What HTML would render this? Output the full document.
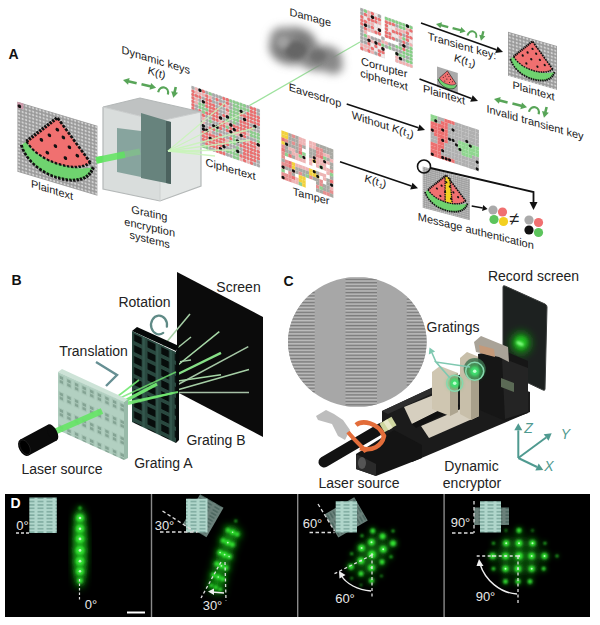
<!DOCTYPE html><html><head><meta charset="utf-8"><style>html,body{margin:0;padding:0;background:#fff;}svg{display:block;font-family:"Liberation Sans", sans-serif;}</style></head><body>
<svg width="600" height="625" viewBox="0 0 600 625">
<defs>
<pattern id="grid" width="3.5" height="3.5" patternUnits="userSpaceOnUse"><rect width="3.5" height="3.5" fill="#9a9a9a"/><circle cx="1.75" cy="1.75" r="1.15" fill="#d2d2d2"/></pattern>
<filter id="b1" x="-50%" y="-50%" width="200%" height="200%"><feGaussianBlur stdDeviation="1"/></filter>
<filter id="b2" x="-50%" y="-50%" width="200%" height="200%"><feGaussianBlur stdDeviation="2"/></filter>
<filter id="b3" x="-50%" y="-50%" width="200%" height="200%"><feGaussianBlur stdDeviation="2.6"/></filter>
<filter id="b4" x="-50%" y="-50%" width="200%" height="200%"><feGaussianBlur stdDeviation="4"/></filter>
<filter id="b6" x="-50%" y="-50%" width="200%" height="200%"><feGaussianBlur stdDeviation="6"/></filter>
<filter id="bh" x="-50%" y="-50%" width="200%" height="200%"><feGaussianBlur stdDeviation="0.6"/></filter>
<pattern id="stripes" width="4" height="3.3" patternUnits="userSpaceOnUse"><rect width="4" height="3.3" fill="#a2a2a2"/><rect y="0" width="4" height="1.1" fill="#bebebe"/><rect y="1.6" width="4" height="1.1" fill="#7a7a7a"/></pattern>
<pattern id="slotsA" width="7.6" height="16.5" patternUnits="userSpaceOnUse"><rect width="7.6" height="16.5" fill="#b2d0c1"/><rect x="1.6" y="3" width="3.6" height="3" fill="#83a393"/><rect x="1.6" y="7" width="3.6" height="3" fill="#83a393"/><rect x="1" y="2.4" width="4.8" height="8.2" fill="none" stroke="#a3c1b2" stroke-width="0.6"/></pattern>
<pattern id="slotsB" width="13.6" height="11" patternUnits="userSpaceOnUse"><rect width="13.6" height="11" fill="#29483f"/><rect x="2" y="2" width="7.8" height="7" fill="#070d0c"/><rect x="10.5" y="0" width="2.2" height="11" fill="#33574d"/></pattern>
<pattern id="slotsD" width="9" height="3.4" patternUnits="userSpaceOnUse"><rect width="9" height="3.4" fill="#b0d6cb"/><rect x="1.5" y="1.1" width="6" height="1.3" fill="#76a498"/></pattern>
</defs>
<text x="13.5" y="58.5" font-size="14" text-anchor="middle" fill="#111" font-weight="bold" font-style="normal">A</text>
<g transform="matrix(1,0.30,0,1,17.4,101.7)">
<rect x="0" y="0" width="80" height="70" fill="url(#grid)"/>
<path d="M4,42 C8,56 24,64 40,64 C56,64 72,58 76,42 C68,48 56,50 42,50 C26,50 14,46 9,37 Z" fill="#6fd36f"/><path d="M40,4 L9,37 C16,46 28,50 42,50 C56,50 66,46 73,39 Z" fill="#f07070"/><path d="M9,37 L40,4 L73,39" fill="none" stroke="#111" stroke-width="3" stroke-dasharray="2.6 1.2"/><path d="M4,42 C8,56 24,64 40,64 C56,64 72,58 76,42" fill="none" stroke="#111" stroke-width="3" stroke-dasharray="2.6 1.2"/><path d="M9,37 C16,46 28,50 42,50 C56,50 66,46 73,39" fill="none" stroke="#111" stroke-width="2.4" stroke-dasharray="2.6 1.4"/><circle cx="40" cy="16" r="1.8" fill="#111"/><circle cx="32" cy="24" r="1.8" fill="#111"/><circle cx="46" cy="22" r="1.8" fill="#111"/><circle cx="24" cy="31" r="1.8" fill="#111"/><circle cx="38" cy="33" r="1.8" fill="#111"/><circle cx="52" cy="30" r="1.8" fill="#111"/><circle cx="30" cy="42" r="1.8" fill="#111"/><circle cx="48" cy="42" r="1.8" fill="#111"/><circle cx="60" cy="36" r="1.8" fill="#111"/>
<rect x="0" y="0" width="6" height="6" fill="#c9a"/><circle cx="2" cy="4" r="1.8" fill="#111"/>
</g>
<text x="52" y="193.7" font-size="11" text-anchor="middle" fill="#222" font-style="normal" transform="matrix(1,0.307,0,1,0,-15.96)">Plaintext</text>
<line x1="96" y1="160.5" x2="125" y2="154.5" stroke="#5fe65f" stroke-width="6.5" opacity="0.9"/>
<line x1="172" y1="150" x2="360" y2="42" stroke="#9ee29e" stroke-width="1.3"/>
<g transform="matrix(1,0.347,0,1,191.4,85.6)">
<rect x="0.00" y="0.00" width="3.48" height="3.48" fill="#d6d6d6"/><circle cx="1.72" cy="1.72" r="1.72" fill="#aaaaaa"/><rect x="3.43" y="0.00" width="3.48" height="3.48" fill="#d6d6d6"/><circle cx="5.15" cy="1.72" r="1.72" fill="#f0b0b0"/><rect x="6.86" y="0.00" width="3.48" height="3.48" fill="#d6d6d6"/><circle cx="8.58" cy="1.72" r="1.72" fill="#aaaaaa"/><rect x="10.29" y="0.00" width="3.48" height="3.48" fill="#d6d6d6"/><circle cx="12.01" cy="1.72" r="1.72" fill="#ea7070"/><rect x="13.72" y="0.00" width="3.48" height="3.48" fill="#d6d6d6"/><circle cx="15.44" cy="1.72" r="1.72" fill="#aaaaaa"/><rect x="17.15" y="0.00" width="3.48" height="3.48" fill="#d6d6d6"/><circle cx="18.87" cy="1.72" r="1.72" fill="#8ccc8c"/><rect x="20.58" y="0.00" width="3.48" height="3.48" fill="#d6d6d6"/><circle cx="22.30" cy="1.72" r="1.72" fill="#aaaaaa"/><rect x="24.01" y="0.00" width="3.48" height="3.48" fill="#d6d6d6"/><circle cx="25.73" cy="1.72" r="1.72" fill="#aaaaaa"/><rect x="27.44" y="0.00" width="3.48" height="3.48" fill="#d6d6d6"/><circle cx="29.16" cy="1.72" r="1.72" fill="#aaaaaa"/><rect x="30.87" y="0.00" width="3.48" height="3.48" fill="#d6d6d6"/><circle cx="32.59" cy="1.72" r="1.72" fill="#ea7070"/><rect x="34.30" y="0.00" width="3.48" height="3.48" fill="#d6d6d6"/><circle cx="36.02" cy="1.72" r="1.72" fill="#ea7070"/><rect x="37.73" y="0.00" width="3.48" height="3.48" fill="#d6d6d6"/><circle cx="39.45" cy="1.72" r="1.72" fill="#8ccc8c"/><rect x="41.16" y="0.00" width="3.48" height="3.48" fill="#d6d6d6"/><circle cx="42.88" cy="1.72" r="1.72" fill="#8ccc8c"/><rect x="44.59" y="0.00" width="3.48" height="3.48" fill="#d6d6d6"/><circle cx="46.31" cy="1.72" r="1.72" fill="#8ccc8c"/><rect x="48.02" y="0.00" width="3.48" height="3.48" fill="#d6d6d6"/><circle cx="49.74" cy="1.72" r="1.72" fill="#8ccc8c"/><rect x="51.45" y="0.00" width="3.48" height="3.48" fill="#d6d6d6"/><circle cx="53.17" cy="1.72" r="1.72" fill="#8ccc8c"/><rect x="54.88" y="0.00" width="3.48" height="3.48" fill="#d6d6d6"/><circle cx="56.60" cy="1.72" r="1.72" fill="#aaaaaa"/><rect x="58.31" y="0.00" width="3.48" height="3.48" fill="#d6d6d6"/><circle cx="60.03" cy="1.72" r="1.72" fill="#ea7070"/><rect x="61.74" y="0.00" width="3.48" height="3.48" fill="#d6d6d6"/><circle cx="63.46" cy="1.72" r="1.72" fill="#ea7070"/><rect x="65.17" y="0.00" width="3.48" height="3.48" fill="#d6d6d6"/><circle cx="66.89" cy="1.72" r="1.72" fill="#aaaaaa"/><rect x="0.00" y="3.43" width="3.48" height="3.48" fill="#d6d6d6"/><circle cx="1.72" cy="5.15" r="1.72" fill="#ea7070"/><rect x="3.43" y="3.43" width="3.48" height="3.48" fill="#d6d6d6"/><circle cx="5.15" cy="5.15" r="1.72" fill="#f0b0b0"/><rect x="6.86" y="3.43" width="3.48" height="3.48" fill="#d6d6d6"/><circle cx="8.58" cy="5.15" r="1.72" fill="#f0b0b0"/><rect x="10.29" y="3.43" width="3.48" height="3.48" fill="#d6d6d6"/><circle cx="12.01" cy="5.15" r="1.72" fill="#f0b0b0"/><rect x="13.72" y="3.43" width="3.48" height="3.48" fill="#d6d6d6"/><circle cx="15.44" cy="5.15" r="1.72" fill="#ea7070"/><rect x="17.15" y="3.43" width="3.48" height="3.48" fill="#d6d6d6"/><circle cx="18.87" cy="5.15" r="1.72" fill="#f0b0b0"/><rect x="20.58" y="3.43" width="3.48" height="3.48" fill="#d6d6d6"/><circle cx="22.30" cy="5.15" r="1.72" fill="#aaaaaa"/><rect x="24.01" y="3.43" width="3.48" height="3.48" fill="#d6d6d6"/><circle cx="25.73" cy="5.15" r="1.72" fill="#ea7070"/><rect x="27.44" y="3.43" width="3.48" height="3.48" fill="#d6d6d6"/><circle cx="29.16" cy="5.15" r="1.72" fill="#aaaaaa"/><rect x="30.87" y="3.43" width="3.48" height="3.48" fill="#d6d6d6"/><circle cx="32.59" cy="5.15" r="1.72" fill="#aaaaaa"/><rect x="34.30" y="3.43" width="3.48" height="3.48" fill="#d6d6d6"/><circle cx="36.02" cy="5.15" r="1.72" fill="#ea7070"/><rect x="37.73" y="3.43" width="3.48" height="3.48" fill="#d6d6d6"/><circle cx="39.45" cy="5.15" r="1.72" fill="#aaaaaa"/><rect x="41.16" y="3.43" width="3.48" height="3.48" fill="#d6d6d6"/><circle cx="42.88" cy="5.15" r="1.72" fill="#8ccc8c"/><rect x="44.59" y="3.43" width="3.48" height="3.48" fill="#d6d6d6"/><circle cx="46.31" cy="5.15" r="1.72" fill="#8ccc8c"/><rect x="48.02" y="3.43" width="3.48" height="3.48" fill="#d6d6d6"/><circle cx="49.74" cy="5.15" r="1.72" fill="#8ccc8c"/><rect x="51.45" y="3.43" width="3.48" height="3.48" fill="#d6d6d6"/><circle cx="53.17" cy="5.15" r="1.72" fill="#8ccc8c"/><rect x="54.88" y="3.43" width="3.48" height="3.48" fill="#d6d6d6"/><circle cx="56.60" cy="5.15" r="1.72" fill="#8ccc8c"/><rect x="58.31" y="3.43" width="3.48" height="3.48" fill="#d6d6d6"/><circle cx="60.03" cy="5.15" r="1.72" fill="#ea7070"/><rect x="61.74" y="3.43" width="3.48" height="3.48" fill="#d6d6d6"/><circle cx="63.46" cy="5.15" r="1.72" fill="#ea7070"/><rect x="65.17" y="3.43" width="3.48" height="3.48" fill="#d6d6d6"/><circle cx="66.89" cy="5.15" r="1.72" fill="#aaaaaa"/><rect x="0.00" y="6.86" width="3.48" height="3.48" fill="#d6d6d6"/><circle cx="1.72" cy="8.58" r="1.72" fill="#ea7070"/><rect x="3.43" y="6.86" width="3.48" height="3.48" fill="#d6d6d6"/><circle cx="5.15" cy="8.58" r="1.72" fill="#ea7070"/><rect x="6.86" y="6.86" width="3.48" height="3.48" fill="#d6d6d6"/><circle cx="8.58" cy="8.58" r="1.72" fill="#ea7070"/><rect x="10.29" y="6.86" width="3.48" height="3.48" fill="#d6d6d6"/><circle cx="12.01" cy="8.58" r="1.72" fill="#aaaaaa"/><rect x="13.72" y="6.86" width="3.48" height="3.48" fill="#d6d6d6"/><circle cx="15.44" cy="8.58" r="1.72" fill="#ea7070"/><rect x="17.15" y="6.86" width="3.48" height="3.48" fill="#d6d6d6"/><circle cx="18.87" cy="8.58" r="1.72" fill="#ea7070"/><rect x="20.58" y="6.86" width="3.48" height="3.48" fill="#d6d6d6"/><circle cx="22.30" cy="8.58" r="1.72" fill="#aaaaaa"/><rect x="24.01" y="6.86" width="3.48" height="3.48" fill="#d6d6d6"/><circle cx="25.73" cy="8.58" r="1.72" fill="#aaaaaa"/><rect x="27.44" y="6.86" width="3.48" height="3.48" fill="#d6d6d6"/><circle cx="29.16" cy="8.58" r="1.72" fill="#ea7070"/><rect x="30.87" y="6.86" width="3.48" height="3.48" fill="#d6d6d6"/><circle cx="32.59" cy="8.58" r="1.72" fill="#ea7070"/><rect x="34.30" y="6.86" width="3.48" height="3.48" fill="#d6d6d6"/><circle cx="36.02" cy="8.58" r="1.72" fill="#f0b0b0"/><rect x="37.73" y="6.86" width="3.48" height="3.48" fill="#d6d6d6"/><circle cx="39.45" cy="8.58" r="1.72" fill="#aaaaaa"/><rect x="41.16" y="6.86" width="3.48" height="3.48" fill="#d6d6d6"/><circle cx="42.88" cy="8.58" r="1.72" fill="#8ccc8c"/><rect x="44.59" y="6.86" width="3.48" height="3.48" fill="#d6d6d6"/><circle cx="46.31" cy="8.58" r="1.72" fill="#8ccc8c"/><rect x="48.02" y="6.86" width="3.48" height="3.48" fill="#d6d6d6"/><circle cx="49.74" cy="8.58" r="1.72" fill="#8ccc8c"/><rect x="51.45" y="6.86" width="3.48" height="3.48" fill="#d6d6d6"/><circle cx="53.17" cy="8.58" r="1.72" fill="#aaaaaa"/><rect x="54.88" y="6.86" width="3.48" height="3.48" fill="#d6d6d6"/><circle cx="56.60" cy="8.58" r="1.72" fill="#ea7070"/><rect x="58.31" y="6.86" width="3.48" height="3.48" fill="#d6d6d6"/><circle cx="60.03" cy="8.58" r="1.72" fill="#ea7070"/><rect x="61.74" y="6.86" width="3.48" height="3.48" fill="#d6d6d6"/><circle cx="63.46" cy="8.58" r="1.72" fill="#ea7070"/><rect x="65.17" y="6.86" width="3.48" height="3.48" fill="#d6d6d6"/><circle cx="66.89" cy="8.58" r="1.72" fill="#ea7070"/><rect x="0.00" y="10.29" width="3.48" height="3.48" fill="#d6d6d6"/><circle cx="1.72" cy="12.01" r="1.72" fill="#ea7070"/><rect x="3.43" y="10.29" width="3.48" height="3.48" fill="#d6d6d6"/><circle cx="5.15" cy="12.01" r="1.72" fill="#f0b0b0"/><rect x="6.86" y="10.29" width="3.48" height="3.48" fill="#d6d6d6"/><circle cx="8.58" cy="12.01" r="1.72" fill="#aaaaaa"/><rect x="10.29" y="10.29" width="3.48" height="3.48" fill="#d6d6d6"/><circle cx="12.01" cy="12.01" r="1.72" fill="#f0b0b0"/><rect x="13.72" y="10.29" width="3.48" height="3.48" fill="#d6d6d6"/><circle cx="15.44" cy="12.01" r="1.72" fill="#ea7070"/><rect x="17.15" y="10.29" width="3.48" height="3.48" fill="#d6d6d6"/><circle cx="18.87" cy="12.01" r="1.72" fill="#ea7070"/><rect x="20.58" y="10.29" width="3.48" height="3.48" fill="#d6d6d6"/><circle cx="22.30" cy="12.01" r="1.72" fill="#ea7070"/><rect x="24.01" y="10.29" width="3.48" height="3.48" fill="#d6d6d6"/><circle cx="25.73" cy="12.01" r="1.72" fill="#aaaaaa"/><rect x="27.44" y="10.29" width="3.48" height="3.48" fill="#d6d6d6"/><circle cx="29.16" cy="12.01" r="1.72" fill="#aaaaaa"/><rect x="30.87" y="10.29" width="3.48" height="3.48" fill="#d6d6d6"/><circle cx="32.59" cy="12.01" r="1.72" fill="#aaaaaa"/><rect x="34.30" y="10.29" width="3.48" height="3.48" fill="#d6d6d6"/><circle cx="36.02" cy="12.01" r="1.72" fill="#ea7070"/><rect x="37.73" y="10.29" width="3.48" height="3.48" fill="#d6d6d6"/><circle cx="39.45" cy="12.01" r="1.72" fill="#8ccc8c"/><rect x="41.16" y="10.29" width="3.48" height="3.48" fill="#d6d6d6"/><circle cx="42.88" cy="12.01" r="1.72" fill="#8ccc8c"/><rect x="44.59" y="10.29" width="3.48" height="3.48" fill="#d6d6d6"/><circle cx="46.31" cy="12.01" r="1.72" fill="#8ccc8c"/><rect x="48.02" y="10.29" width="3.48" height="3.48" fill="#d6d6d6"/><circle cx="49.74" cy="12.01" r="1.72" fill="#ea7070"/><rect x="51.45" y="10.29" width="3.48" height="3.48" fill="#d6d6d6"/><circle cx="53.17" cy="12.01" r="1.72" fill="#ea7070"/><rect x="54.88" y="10.29" width="3.48" height="3.48" fill="#d6d6d6"/><circle cx="56.60" cy="12.01" r="1.72" fill="#ea7070"/><rect x="58.31" y="10.29" width="3.48" height="3.48" fill="#d6d6d6"/><circle cx="60.03" cy="12.01" r="1.72" fill="#ea7070"/><rect x="61.74" y="10.29" width="3.48" height="3.48" fill="#d6d6d6"/><circle cx="63.46" cy="12.01" r="1.72" fill="#ea7070"/><rect x="65.17" y="10.29" width="3.48" height="3.48" fill="#d6d6d6"/><circle cx="66.89" cy="12.01" r="1.72" fill="#ea7070"/><rect x="0.00" y="13.72" width="3.48" height="3.48" fill="#d6d6d6"/><circle cx="1.72" cy="15.44" r="1.72" fill="#ea7070"/><rect x="3.43" y="13.72" width="3.48" height="3.48" fill="#d6d6d6"/><circle cx="5.15" cy="15.44" r="1.72" fill="#f0b0b0"/><rect x="6.86" y="13.72" width="3.48" height="3.48" fill="#d6d6d6"/><circle cx="8.58" cy="15.44" r="1.72" fill="#8ccc8c"/><rect x="10.29" y="13.72" width="3.48" height="3.48" fill="#d6d6d6"/><circle cx="12.01" cy="15.44" r="1.72" fill="#8ccc8c"/><rect x="13.72" y="13.72" width="3.48" height="3.48" fill="#d6d6d6"/><circle cx="15.44" cy="15.44" r="1.72" fill="#ea7070"/><rect x="17.15" y="13.72" width="3.48" height="3.48" fill="#d6d6d6"/><circle cx="18.87" cy="15.44" r="1.72" fill="#ea7070"/><rect x="20.58" y="13.72" width="3.48" height="3.48" fill="#d6d6d6"/><circle cx="22.30" cy="15.44" r="1.72" fill="#ea7070"/><rect x="24.01" y="13.72" width="3.48" height="3.48" fill="#d6d6d6"/><circle cx="25.73" cy="15.44" r="1.72" fill="#ea7070"/><rect x="27.44" y="13.72" width="3.48" height="3.48" fill="#d6d6d6"/><circle cx="29.16" cy="15.44" r="1.72" fill="#aaaaaa"/><rect x="30.87" y="13.72" width="3.48" height="3.48" fill="#d6d6d6"/><circle cx="32.59" cy="15.44" r="1.72" fill="#aaaaaa"/><rect x="34.30" y="13.72" width="3.48" height="3.48" fill="#d6d6d6"/><circle cx="36.02" cy="15.44" r="1.72" fill="#f0b0b0"/><rect x="37.73" y="13.72" width="3.48" height="3.48" fill="#d6d6d6"/><circle cx="39.45" cy="15.44" r="1.72" fill="#8ccc8c"/><rect x="41.16" y="13.72" width="3.48" height="3.48" fill="#d6d6d6"/><circle cx="42.88" cy="15.44" r="1.72" fill="#8ccc8c"/><rect x="44.59" y="13.72" width="3.48" height="3.48" fill="#d6d6d6"/><circle cx="46.31" cy="15.44" r="1.72" fill="#8ccc8c"/><rect x="48.02" y="13.72" width="3.48" height="3.48" fill="#d6d6d6"/><circle cx="49.74" cy="15.44" r="1.72" fill="#aaaaaa"/><rect x="51.45" y="13.72" width="3.48" height="3.48" fill="#d6d6d6"/><circle cx="53.17" cy="15.44" r="1.72" fill="#ea7070"/><rect x="54.88" y="13.72" width="3.48" height="3.48" fill="#d6d6d6"/><circle cx="56.60" cy="15.44" r="1.72" fill="#ea7070"/><rect x="58.31" y="13.72" width="3.48" height="3.48" fill="#d6d6d6"/><circle cx="60.03" cy="15.44" r="1.72" fill="#ea7070"/><rect x="61.74" y="13.72" width="3.48" height="3.48" fill="#d6d6d6"/><circle cx="63.46" cy="15.44" r="1.72" fill="#ea7070"/><rect x="65.17" y="13.72" width="3.48" height="3.48" fill="#d6d6d6"/><circle cx="66.89" cy="15.44" r="1.72" fill="#ea7070"/><rect x="0.00" y="17.15" width="3.48" height="3.48" fill="#d6d6d6"/><circle cx="1.72" cy="18.87" r="1.72" fill="#ea7070"/><rect x="3.43" y="17.15" width="3.48" height="3.48" fill="#d6d6d6"/><circle cx="5.15" cy="18.87" r="1.72" fill="#aaaaaa"/><rect x="6.86" y="17.15" width="3.48" height="3.48" fill="#d6d6d6"/><circle cx="8.58" cy="18.87" r="1.72" fill="#8ccc8c"/><rect x="10.29" y="17.15" width="3.48" height="3.48" fill="#d6d6d6"/><circle cx="12.01" cy="18.87" r="1.72" fill="#8ccc8c"/><rect x="13.72" y="17.15" width="3.48" height="3.48" fill="#d6d6d6"/><circle cx="15.44" cy="18.87" r="1.72" fill="#8ccc8c"/><rect x="17.15" y="17.15" width="3.48" height="3.48" fill="#d6d6d6"/><circle cx="18.87" cy="18.87" r="1.72" fill="#ea7070"/><rect x="20.58" y="17.15" width="3.48" height="3.48" fill="#d6d6d6"/><circle cx="22.30" cy="18.87" r="1.72" fill="#ea7070"/><rect x="24.01" y="17.15" width="3.48" height="3.48" fill="#d6d6d6"/><circle cx="25.73" cy="18.87" r="1.72" fill="#ea7070"/><rect x="27.44" y="17.15" width="3.48" height="3.48" fill="#d6d6d6"/><circle cx="29.16" cy="18.87" r="1.72" fill="#aaaaaa"/><rect x="30.87" y="17.15" width="3.48" height="3.48" fill="#d6d6d6"/><circle cx="32.59" cy="18.87" r="1.72" fill="#ea7070"/><rect x="34.30" y="17.15" width="3.48" height="3.48" fill="#d6d6d6"/><circle cx="36.02" cy="18.87" r="1.72" fill="#aaaaaa"/><rect x="37.73" y="17.15" width="3.48" height="3.48" fill="#d6d6d6"/><circle cx="39.45" cy="18.87" r="1.72" fill="#8ccc8c"/><rect x="41.16" y="17.15" width="3.48" height="3.48" fill="#d6d6d6"/><circle cx="42.88" cy="18.87" r="1.72" fill="#8ccc8c"/><rect x="44.59" y="17.15" width="3.48" height="3.48" fill="#d6d6d6"/><circle cx="46.31" cy="18.87" r="1.72" fill="#8ccc8c"/><rect x="48.02" y="17.15" width="3.48" height="3.48" fill="#d6d6d6"/><circle cx="49.74" cy="18.87" r="1.72" fill="#ea7070"/><rect x="51.45" y="17.15" width="3.48" height="3.48" fill="#d6d6d6"/><circle cx="53.17" cy="18.87" r="1.72" fill="#ea7070"/><rect x="54.88" y="17.15" width="3.48" height="3.48" fill="#d6d6d6"/><circle cx="56.60" cy="18.87" r="1.72" fill="#ea7070"/><rect x="58.31" y="17.15" width="3.48" height="3.48" fill="#d6d6d6"/><circle cx="60.03" cy="18.87" r="1.72" fill="#aaaaaa"/><rect x="61.74" y="17.15" width="3.48" height="3.48" fill="#d6d6d6"/><circle cx="63.46" cy="18.87" r="1.72" fill="#aaaaaa"/><rect x="65.17" y="17.15" width="3.48" height="3.48" fill="#d6d6d6"/><circle cx="66.89" cy="18.87" r="1.72" fill="#aaaaaa"/><rect x="0.00" y="20.58" width="3.48" height="3.48" fill="#d6d6d6"/><circle cx="1.72" cy="22.30" r="1.72" fill="#ea7070"/><rect x="3.43" y="20.58" width="3.48" height="3.48" fill="#d6d6d6"/><circle cx="5.15" cy="22.30" r="1.72" fill="#aaaaaa"/><rect x="6.86" y="20.58" width="3.48" height="3.48" fill="#d6d6d6"/><circle cx="8.58" cy="22.30" r="1.72" fill="#ea7070"/><rect x="10.29" y="20.58" width="3.48" height="3.48" fill="#d6d6d6"/><circle cx="12.01" cy="22.30" r="1.72" fill="#8ccc8c"/><rect x="13.72" y="20.58" width="3.48" height="3.48" fill="#d6d6d6"/><circle cx="15.44" cy="22.30" r="1.72" fill="#ea7070"/><rect x="17.15" y="20.58" width="3.48" height="3.48" fill="#d6d6d6"/><circle cx="18.87" cy="22.30" r="1.72" fill="#ea7070"/><rect x="20.58" y="20.58" width="3.48" height="3.48" fill="#d6d6d6"/><circle cx="22.30" cy="22.30" r="1.72" fill="#ea7070"/><rect x="24.01" y="20.58" width="3.48" height="3.48" fill="#d6d6d6"/><circle cx="25.73" cy="22.30" r="1.72" fill="#ea7070"/><rect x="27.44" y="20.58" width="3.48" height="3.48" fill="#d6d6d6"/><circle cx="29.16" cy="22.30" r="1.72" fill="#ea7070"/><rect x="30.87" y="20.58" width="3.48" height="3.48" fill="#d6d6d6"/><circle cx="32.59" cy="22.30" r="1.72" fill="#aaaaaa"/><rect x="34.30" y="20.58" width="3.48" height="3.48" fill="#d6d6d6"/><circle cx="36.02" cy="22.30" r="1.72" fill="#8ccc8c"/><rect x="37.73" y="20.58" width="3.48" height="3.48" fill="#d6d6d6"/><circle cx="39.45" cy="22.30" r="1.72" fill="#aaaaaa"/><rect x="41.16" y="20.58" width="3.48" height="3.48" fill="#d6d6d6"/><circle cx="42.88" cy="22.30" r="1.72" fill="#8ccc8c"/><rect x="44.59" y="20.58" width="3.48" height="3.48" fill="#d6d6d6"/><circle cx="46.31" cy="22.30" r="1.72" fill="#aaaaaa"/><rect x="48.02" y="20.58" width="3.48" height="3.48" fill="#d6d6d6"/><circle cx="49.74" cy="22.30" r="1.72" fill="#ea7070"/><rect x="51.45" y="20.58" width="3.48" height="3.48" fill="#d6d6d6"/><circle cx="53.17" cy="22.30" r="1.72" fill="#ea7070"/><rect x="54.88" y="20.58" width="3.48" height="3.48" fill="#d6d6d6"/><circle cx="56.60" cy="22.30" r="1.72" fill="#ea7070"/><rect x="58.31" y="20.58" width="3.48" height="3.48" fill="#d6d6d6"/><circle cx="60.03" cy="22.30" r="1.72" fill="#ea7070"/><rect x="61.74" y="20.58" width="3.48" height="3.48" fill="#d6d6d6"/><circle cx="63.46" cy="22.30" r="1.72" fill="#aaaaaa"/><rect x="65.17" y="20.58" width="3.48" height="3.48" fill="#d6d6d6"/><circle cx="66.89" cy="22.30" r="1.72" fill="#aaaaaa"/><rect x="0.00" y="24.01" width="3.48" height="3.48" fill="#d6d6d6"/><circle cx="1.72" cy="25.73" r="1.72" fill="#ea7070"/><rect x="3.43" y="24.01" width="3.48" height="3.48" fill="#d6d6d6"/><circle cx="5.15" cy="25.73" r="1.72" fill="#ea7070"/><rect x="6.86" y="24.01" width="3.48" height="3.48" fill="#d6d6d6"/><circle cx="8.58" cy="25.73" r="1.72" fill="#ea7070"/><rect x="10.29" y="24.01" width="3.48" height="3.48" fill="#d6d6d6"/><circle cx="12.01" cy="25.73" r="1.72" fill="#ea7070"/><rect x="13.72" y="24.01" width="3.48" height="3.48" fill="#d6d6d6"/><circle cx="15.44" cy="25.73" r="1.72" fill="#aaaaaa"/><rect x="17.15" y="24.01" width="3.48" height="3.48" fill="#d6d6d6"/><circle cx="18.87" cy="25.73" r="1.72" fill="#aaaaaa"/><rect x="20.58" y="24.01" width="3.48" height="3.48" fill="#d6d6d6"/><circle cx="22.30" cy="25.73" r="1.72" fill="#ea7070"/><rect x="24.01" y="24.01" width="3.48" height="3.48" fill="#d6d6d6"/><circle cx="25.73" cy="25.73" r="1.72" fill="#ea7070"/><rect x="27.44" y="24.01" width="3.48" height="3.48" fill="#d6d6d6"/><circle cx="29.16" cy="25.73" r="1.72" fill="#f0b0b0"/><rect x="30.87" y="24.01" width="3.48" height="3.48" fill="#d6d6d6"/><circle cx="32.59" cy="25.73" r="1.72" fill="#ea7070"/><rect x="34.30" y="24.01" width="3.48" height="3.48" fill="#d6d6d6"/><circle cx="36.02" cy="25.73" r="1.72" fill="#f0b0b0"/><rect x="37.73" y="24.01" width="3.48" height="3.48" fill="#d6d6d6"/><circle cx="39.45" cy="25.73" r="1.72" fill="#ea7070"/><rect x="41.16" y="24.01" width="3.48" height="3.48" fill="#d6d6d6"/><circle cx="42.88" cy="25.73" r="1.72" fill="#ea7070"/><rect x="44.59" y="24.01" width="3.48" height="3.48" fill="#d6d6d6"/><circle cx="46.31" cy="25.73" r="1.72" fill="#ea7070"/><rect x="48.02" y="24.01" width="3.48" height="3.48" fill="#d6d6d6"/><circle cx="49.74" cy="25.73" r="1.72" fill="#ea7070"/><rect x="51.45" y="24.01" width="3.48" height="3.48" fill="#d6d6d6"/><circle cx="53.17" cy="25.73" r="1.72" fill="#ea7070"/><rect x="54.88" y="24.01" width="3.48" height="3.48" fill="#d6d6d6"/><circle cx="56.60" cy="25.73" r="1.72" fill="#aaaaaa"/><rect x="58.31" y="24.01" width="3.48" height="3.48" fill="#d6d6d6"/><circle cx="60.03" cy="25.73" r="1.72" fill="#8ccc8c"/><rect x="61.74" y="24.01" width="3.48" height="3.48" fill="#d6d6d6"/><circle cx="63.46" cy="25.73" r="1.72" fill="#8ccc8c"/><rect x="65.17" y="24.01" width="3.48" height="3.48" fill="#d6d6d6"/><circle cx="66.89" cy="25.73" r="1.72" fill="#8ccc8c"/><rect x="0.00" y="27.44" width="3.48" height="3.48" fill="#d6d6d6"/><circle cx="1.72" cy="29.16" r="1.72" fill="#ea7070"/><rect x="3.43" y="27.44" width="3.48" height="3.48" fill="#d6d6d6"/><circle cx="5.15" cy="29.16" r="1.72" fill="#ea7070"/><rect x="6.86" y="27.44" width="3.48" height="3.48" fill="#d6d6d6"/><circle cx="8.58" cy="29.16" r="1.72" fill="#ea7070"/><rect x="10.29" y="27.44" width="3.48" height="3.48" fill="#d6d6d6"/><circle cx="12.01" cy="29.16" r="1.72" fill="#f0b0b0"/><rect x="13.72" y="27.44" width="3.48" height="3.48" fill="#d6d6d6"/><circle cx="15.44" cy="29.16" r="1.72" fill="#aaaaaa"/><rect x="17.15" y="27.44" width="3.48" height="3.48" fill="#d6d6d6"/><circle cx="18.87" cy="29.16" r="1.72" fill="#8ccc8c"/><rect x="20.58" y="27.44" width="3.48" height="3.48" fill="#d6d6d6"/><circle cx="22.30" cy="29.16" r="1.72" fill="#aaaaaa"/><rect x="24.01" y="27.44" width="3.48" height="3.48" fill="#d6d6d6"/><circle cx="25.73" cy="29.16" r="1.72" fill="#aaaaaa"/><rect x="27.44" y="27.44" width="3.48" height="3.48" fill="#d6d6d6"/><circle cx="29.16" cy="29.16" r="1.72" fill="#ea7070"/><rect x="30.87" y="27.44" width="3.48" height="3.48" fill="#d6d6d6"/><circle cx="32.59" cy="29.16" r="1.72" fill="#ea7070"/><rect x="34.30" y="27.44" width="3.48" height="3.48" fill="#d6d6d6"/><circle cx="36.02" cy="29.16" r="1.72" fill="#8ccc8c"/><rect x="37.73" y="27.44" width="3.48" height="3.48" fill="#d6d6d6"/><circle cx="39.45" cy="29.16" r="1.72" fill="#ea7070"/><rect x="41.16" y="27.44" width="3.48" height="3.48" fill="#d6d6d6"/><circle cx="42.88" cy="29.16" r="1.72" fill="#ea7070"/><rect x="44.59" y="27.44" width="3.48" height="3.48" fill="#d6d6d6"/><circle cx="46.31" cy="29.16" r="1.72" fill="#ea7070"/><rect x="48.02" y="27.44" width="3.48" height="3.48" fill="#d6d6d6"/><circle cx="49.74" cy="29.16" r="1.72" fill="#ea7070"/><rect x="51.45" y="27.44" width="3.48" height="3.48" fill="#d6d6d6"/><circle cx="53.17" cy="29.16" r="1.72" fill="#ea7070"/><rect x="54.88" y="27.44" width="3.48" height="3.48" fill="#d6d6d6"/><circle cx="56.60" cy="29.16" r="1.72" fill="#f0b0b0"/><rect x="58.31" y="27.44" width="3.48" height="3.48" fill="#d6d6d6"/><circle cx="60.03" cy="29.16" r="1.72" fill="#8ccc8c"/><rect x="61.74" y="27.44" width="3.48" height="3.48" fill="#d6d6d6"/><circle cx="63.46" cy="29.16" r="1.72" fill="#8ccc8c"/><rect x="65.17" y="27.44" width="3.48" height="3.48" fill="#d6d6d6"/><circle cx="66.89" cy="29.16" r="1.72" fill="#8ccc8c"/><rect x="0.00" y="30.87" width="3.48" height="3.48" fill="#d6d6d6"/><circle cx="1.72" cy="32.59" r="1.72" fill="#ea7070"/><rect x="3.43" y="30.87" width="3.48" height="3.48" fill="#d6d6d6"/><circle cx="5.15" cy="32.59" r="1.72" fill="#ea7070"/><rect x="6.86" y="30.87" width="3.48" height="3.48" fill="#d6d6d6"/><circle cx="8.58" cy="32.59" r="1.72" fill="#ea7070"/><rect x="10.29" y="30.87" width="3.48" height="3.48" fill="#d6d6d6"/><circle cx="12.01" cy="32.59" r="1.72" fill="#f0b0b0"/><rect x="13.72" y="30.87" width="3.48" height="3.48" fill="#d6d6d6"/><circle cx="15.44" cy="32.59" r="1.72" fill="#aaaaaa"/><rect x="17.15" y="30.87" width="3.48" height="3.48" fill="#d6d6d6"/><circle cx="18.87" cy="32.59" r="1.72" fill="#aaaaaa"/><rect x="20.58" y="30.87" width="3.48" height="3.48" fill="#d6d6d6"/><circle cx="22.30" cy="32.59" r="1.72" fill="#aaaaaa"/><rect x="24.01" y="30.87" width="3.48" height="3.48" fill="#d6d6d6"/><circle cx="25.73" cy="32.59" r="1.72" fill="#f0b0b0"/><rect x="27.44" y="30.87" width="3.48" height="3.48" fill="#d6d6d6"/><circle cx="29.16" cy="32.59" r="1.72" fill="#ea7070"/><rect x="30.87" y="30.87" width="3.48" height="3.48" fill="#d6d6d6"/><circle cx="32.59" cy="32.59" r="1.72" fill="#aaaaaa"/><rect x="34.30" y="30.87" width="3.48" height="3.48" fill="#d6d6d6"/><circle cx="36.02" cy="32.59" r="1.72" fill="#ea7070"/><rect x="37.73" y="30.87" width="3.48" height="3.48" fill="#d6d6d6"/><circle cx="39.45" cy="32.59" r="1.72" fill="#ea7070"/><rect x="41.16" y="30.87" width="3.48" height="3.48" fill="#d6d6d6"/><circle cx="42.88" cy="32.59" r="1.72" fill="#f0b0b0"/><rect x="44.59" y="30.87" width="3.48" height="3.48" fill="#d6d6d6"/><circle cx="46.31" cy="32.59" r="1.72" fill="#f0b0b0"/><rect x="48.02" y="30.87" width="3.48" height="3.48" fill="#d6d6d6"/><circle cx="49.74" cy="32.59" r="1.72" fill="#ea7070"/><rect x="51.45" y="30.87" width="3.48" height="3.48" fill="#d6d6d6"/><circle cx="53.17" cy="32.59" r="1.72" fill="#ea7070"/><rect x="54.88" y="30.87" width="3.48" height="3.48" fill="#d6d6d6"/><circle cx="56.60" cy="32.59" r="1.72" fill="#aaaaaa"/><rect x="58.31" y="30.87" width="3.48" height="3.48" fill="#d6d6d6"/><circle cx="60.03" cy="32.59" r="1.72" fill="#aaaaaa"/><rect x="61.74" y="30.87" width="3.48" height="3.48" fill="#d6d6d6"/><circle cx="63.46" cy="32.59" r="1.72" fill="#aaaaaa"/><rect x="65.17" y="30.87" width="3.48" height="3.48" fill="#d6d6d6"/><circle cx="66.89" cy="32.59" r="1.72" fill="#8ccc8c"/><rect x="0.00" y="34.30" width="3.48" height="3.48" fill="#d6d6d6"/><circle cx="1.72" cy="36.02" r="1.72" fill="#ea7070"/><rect x="3.43" y="34.30" width="3.48" height="3.48" fill="#d6d6d6"/><circle cx="5.15" cy="36.02" r="1.72" fill="#ea7070"/><rect x="6.86" y="34.30" width="3.48" height="3.48" fill="#d6d6d6"/><circle cx="8.58" cy="36.02" r="1.72" fill="#aaaaaa"/><rect x="10.29" y="34.30" width="3.48" height="3.48" fill="#d6d6d6"/><circle cx="12.01" cy="36.02" r="1.72" fill="#aaaaaa"/><rect x="13.72" y="34.30" width="3.48" height="3.48" fill="#d6d6d6"/><circle cx="15.44" cy="36.02" r="1.72" fill="#aaaaaa"/><rect x="17.15" y="34.30" width="3.48" height="3.48" fill="#d6d6d6"/><circle cx="18.87" cy="36.02" r="1.72" fill="#ea7070"/><rect x="20.58" y="34.30" width="3.48" height="3.48" fill="#d6d6d6"/><circle cx="22.30" cy="36.02" r="1.72" fill="#ea7070"/><rect x="24.01" y="34.30" width="3.48" height="3.48" fill="#d6d6d6"/><circle cx="25.73" cy="36.02" r="1.72" fill="#8ccc8c"/><rect x="27.44" y="34.30" width="3.48" height="3.48" fill="#d6d6d6"/><circle cx="29.16" cy="36.02" r="1.72" fill="#aaaaaa"/><rect x="30.87" y="34.30" width="3.48" height="3.48" fill="#d6d6d6"/><circle cx="32.59" cy="36.02" r="1.72" fill="#aaaaaa"/><rect x="34.30" y="34.30" width="3.48" height="3.48" fill="#d6d6d6"/><circle cx="36.02" cy="36.02" r="1.72" fill="#aaaaaa"/><rect x="37.73" y="34.30" width="3.48" height="3.48" fill="#d6d6d6"/><circle cx="39.45" cy="36.02" r="1.72" fill="#aaaaaa"/><rect x="41.16" y="34.30" width="3.48" height="3.48" fill="#d6d6d6"/><circle cx="42.88" cy="36.02" r="1.72" fill="#8ccc8c"/><rect x="44.59" y="34.30" width="3.48" height="3.48" fill="#d6d6d6"/><circle cx="46.31" cy="36.02" r="1.72" fill="#aaaaaa"/><rect x="48.02" y="34.30" width="3.48" height="3.48" fill="#d6d6d6"/><circle cx="49.74" cy="36.02" r="1.72" fill="#aaaaaa"/><rect x="51.45" y="34.30" width="3.48" height="3.48" fill="#d6d6d6"/><circle cx="53.17" cy="36.02" r="1.72" fill="#aaaaaa"/><rect x="54.88" y="34.30" width="3.48" height="3.48" fill="#d6d6d6"/><circle cx="56.60" cy="36.02" r="1.72" fill="#f0b0b0"/><rect x="58.31" y="34.30" width="3.48" height="3.48" fill="#d6d6d6"/><circle cx="60.03" cy="36.02" r="1.72" fill="#ea7070"/><rect x="61.74" y="34.30" width="3.48" height="3.48" fill="#d6d6d6"/><circle cx="63.46" cy="36.02" r="1.72" fill="#ea7070"/><rect x="65.17" y="34.30" width="3.48" height="3.48" fill="#d6d6d6"/><circle cx="66.89" cy="36.02" r="1.72" fill="#ea7070"/><rect x="0.00" y="37.73" width="3.48" height="3.48" fill="#d6d6d6"/><circle cx="1.72" cy="39.45" r="1.72" fill="#ea7070"/><rect x="3.43" y="37.73" width="3.48" height="3.48" fill="#d6d6d6"/><circle cx="5.15" cy="39.45" r="1.72" fill="#ea7070"/><rect x="6.86" y="37.73" width="3.48" height="3.48" fill="#d6d6d6"/><circle cx="8.58" cy="39.45" r="1.72" fill="#aaaaaa"/><rect x="10.29" y="37.73" width="3.48" height="3.48" fill="#d6d6d6"/><circle cx="12.01" cy="39.45" r="1.72" fill="#aaaaaa"/><rect x="13.72" y="37.73" width="3.48" height="3.48" fill="#d6d6d6"/><circle cx="15.44" cy="39.45" r="1.72" fill="#ea7070"/><rect x="17.15" y="37.73" width="3.48" height="3.48" fill="#d6d6d6"/><circle cx="18.87" cy="39.45" r="1.72" fill="#f0b0b0"/><rect x="20.58" y="37.73" width="3.48" height="3.48" fill="#d6d6d6"/><circle cx="22.30" cy="39.45" r="1.72" fill="#aaaaaa"/><rect x="24.01" y="37.73" width="3.48" height="3.48" fill="#d6d6d6"/><circle cx="25.73" cy="39.45" r="1.72" fill="#aaaaaa"/><rect x="27.44" y="37.73" width="3.48" height="3.48" fill="#d6d6d6"/><circle cx="29.16" cy="39.45" r="1.72" fill="#ea7070"/><rect x="30.87" y="37.73" width="3.48" height="3.48" fill="#d6d6d6"/><circle cx="32.59" cy="39.45" r="1.72" fill="#aaaaaa"/><rect x="34.30" y="37.73" width="3.48" height="3.48" fill="#d6d6d6"/><circle cx="36.02" cy="39.45" r="1.72" fill="#aaaaaa"/><rect x="37.73" y="37.73" width="3.48" height="3.48" fill="#d6d6d6"/><circle cx="39.45" cy="39.45" r="1.72" fill="#ea7070"/><rect x="41.16" y="37.73" width="3.48" height="3.48" fill="#d6d6d6"/><circle cx="42.88" cy="39.45" r="1.72" fill="#8ccc8c"/><rect x="44.59" y="37.73" width="3.48" height="3.48" fill="#d6d6d6"/><circle cx="46.31" cy="39.45" r="1.72" fill="#aaaaaa"/><rect x="48.02" y="37.73" width="3.48" height="3.48" fill="#d6d6d6"/><circle cx="49.74" cy="39.45" r="1.72" fill="#aaaaaa"/><rect x="51.45" y="37.73" width="3.48" height="3.48" fill="#d6d6d6"/><circle cx="53.17" cy="39.45" r="1.72" fill="#ea7070"/><rect x="54.88" y="37.73" width="3.48" height="3.48" fill="#d6d6d6"/><circle cx="56.60" cy="39.45" r="1.72" fill="#ea7070"/><rect x="58.31" y="37.73" width="3.48" height="3.48" fill="#d6d6d6"/><circle cx="60.03" cy="39.45" r="1.72" fill="#ea7070"/><rect x="61.74" y="37.73" width="3.48" height="3.48" fill="#d6d6d6"/><circle cx="63.46" cy="39.45" r="1.72" fill="#ea7070"/><rect x="65.17" y="37.73" width="3.48" height="3.48" fill="#d6d6d6"/><circle cx="66.89" cy="39.45" r="1.72" fill="#f0b0b0"/><rect x="0.00" y="41.16" width="3.48" height="3.48" fill="#d6d6d6"/><circle cx="1.72" cy="42.88" r="1.72" fill="#ea7070"/><rect x="3.43" y="41.16" width="3.48" height="3.48" fill="#d6d6d6"/><circle cx="5.15" cy="42.88" r="1.72" fill="#ea7070"/><rect x="6.86" y="41.16" width="3.48" height="3.48" fill="#d6d6d6"/><circle cx="8.58" cy="42.88" r="1.72" fill="#ea7070"/><rect x="10.29" y="41.16" width="3.48" height="3.48" fill="#d6d6d6"/><circle cx="12.01" cy="42.88" r="1.72" fill="#ea7070"/><rect x="13.72" y="41.16" width="3.48" height="3.48" fill="#d6d6d6"/><circle cx="15.44" cy="42.88" r="1.72" fill="#ea7070"/><rect x="17.15" y="41.16" width="3.48" height="3.48" fill="#d6d6d6"/><circle cx="18.87" cy="42.88" r="1.72" fill="#ea7070"/><rect x="20.58" y="41.16" width="3.48" height="3.48" fill="#d6d6d6"/><circle cx="22.30" cy="42.88" r="1.72" fill="#ea7070"/><rect x="24.01" y="41.16" width="3.48" height="3.48" fill="#d6d6d6"/><circle cx="25.73" cy="42.88" r="1.72" fill="#ea7070"/><rect x="27.44" y="41.16" width="3.48" height="3.48" fill="#d6d6d6"/><circle cx="29.16" cy="42.88" r="1.72" fill="#ea7070"/><rect x="30.87" y="41.16" width="3.48" height="3.48" fill="#d6d6d6"/><circle cx="32.59" cy="42.88" r="1.72" fill="#ea7070"/><rect x="34.30" y="41.16" width="3.48" height="3.48" fill="#d6d6d6"/><circle cx="36.02" cy="42.88" r="1.72" fill="#f0b0b0"/><rect x="37.73" y="41.16" width="3.48" height="3.48" fill="#d6d6d6"/><circle cx="39.45" cy="42.88" r="1.72" fill="#8ccc8c"/><rect x="41.16" y="41.16" width="3.48" height="3.48" fill="#d6d6d6"/><circle cx="42.88" cy="42.88" r="1.72" fill="#8ccc8c"/><rect x="44.59" y="41.16" width="3.48" height="3.48" fill="#d6d6d6"/><circle cx="46.31" cy="42.88" r="1.72" fill="#aaaaaa"/><rect x="48.02" y="41.16" width="3.48" height="3.48" fill="#d6d6d6"/><circle cx="49.74" cy="42.88" r="1.72" fill="#ea7070"/><rect x="51.45" y="41.16" width="3.48" height="3.48" fill="#d6d6d6"/><circle cx="53.17" cy="42.88" r="1.72" fill="#ea7070"/><rect x="54.88" y="41.16" width="3.48" height="3.48" fill="#d6d6d6"/><circle cx="56.60" cy="42.88" r="1.72" fill="#ea7070"/><rect x="58.31" y="41.16" width="3.48" height="3.48" fill="#d6d6d6"/><circle cx="60.03" cy="42.88" r="1.72" fill="#ea7070"/><rect x="61.74" y="41.16" width="3.48" height="3.48" fill="#d6d6d6"/><circle cx="63.46" cy="42.88" r="1.72" fill="#ea7070"/><rect x="65.17" y="41.16" width="3.48" height="3.48" fill="#d6d6d6"/><circle cx="66.89" cy="42.88" r="1.72" fill="#ea7070"/><rect x="0.00" y="44.59" width="3.48" height="3.48" fill="#d6d6d6"/><circle cx="1.72" cy="46.31" r="1.72" fill="#f0b0b0"/><rect x="3.43" y="44.59" width="3.48" height="3.48" fill="#d6d6d6"/><circle cx="5.15" cy="46.31" r="1.72" fill="#ea7070"/><rect x="6.86" y="44.59" width="3.48" height="3.48" fill="#d6d6d6"/><circle cx="8.58" cy="46.31" r="1.72" fill="#ea7070"/><rect x="10.29" y="44.59" width="3.48" height="3.48" fill="#d6d6d6"/><circle cx="12.01" cy="46.31" r="1.72" fill="#ea7070"/><rect x="13.72" y="44.59" width="3.48" height="3.48" fill="#d6d6d6"/><circle cx="15.44" cy="46.31" r="1.72" fill="#ea7070"/><rect x="17.15" y="44.59" width="3.48" height="3.48" fill="#d6d6d6"/><circle cx="18.87" cy="46.31" r="1.72" fill="#ea7070"/><rect x="20.58" y="44.59" width="3.48" height="3.48" fill="#d6d6d6"/><circle cx="22.30" cy="46.31" r="1.72" fill="#ea7070"/><rect x="24.01" y="44.59" width="3.48" height="3.48" fill="#d6d6d6"/><circle cx="25.73" cy="46.31" r="1.72" fill="#ea7070"/><rect x="27.44" y="44.59" width="3.48" height="3.48" fill="#d6d6d6"/><circle cx="29.16" cy="46.31" r="1.72" fill="#ea7070"/><rect x="30.87" y="44.59" width="3.48" height="3.48" fill="#d6d6d6"/><circle cx="32.59" cy="46.31" r="1.72" fill="#ea7070"/><rect x="34.30" y="44.59" width="3.48" height="3.48" fill="#d6d6d6"/><circle cx="36.02" cy="46.31" r="1.72" fill="#ea7070"/><rect x="37.73" y="44.59" width="3.48" height="3.48" fill="#d6d6d6"/><circle cx="39.45" cy="46.31" r="1.72" fill="#aaaaaa"/><rect x="41.16" y="44.59" width="3.48" height="3.48" fill="#d6d6d6"/><circle cx="42.88" cy="46.31" r="1.72" fill="#aaaaaa"/><rect x="44.59" y="44.59" width="3.48" height="3.48" fill="#d6d6d6"/><circle cx="46.31" cy="46.31" r="1.72" fill="#8ccc8c"/><rect x="48.02" y="44.59" width="3.48" height="3.48" fill="#d6d6d6"/><circle cx="49.74" cy="46.31" r="1.72" fill="#aaaaaa"/><rect x="51.45" y="44.59" width="3.48" height="3.48" fill="#d6d6d6"/><circle cx="53.17" cy="46.31" r="1.72" fill="#ea7070"/><rect x="54.88" y="44.59" width="3.48" height="3.48" fill="#d6d6d6"/><circle cx="56.60" cy="46.31" r="1.72" fill="#ea7070"/><rect x="58.31" y="44.59" width="3.48" height="3.48" fill="#d6d6d6"/><circle cx="60.03" cy="46.31" r="1.72" fill="#ea7070"/><rect x="61.74" y="44.59" width="3.48" height="3.48" fill="#d6d6d6"/><circle cx="63.46" cy="46.31" r="1.72" fill="#ea7070"/><rect x="65.17" y="44.59" width="3.48" height="3.48" fill="#d6d6d6"/><circle cx="66.89" cy="46.31" r="1.72" fill="#ea7070"/><rect x="0.00" y="48.02" width="3.48" height="3.48" fill="#d6d6d6"/><circle cx="1.72" cy="49.74" r="1.72" fill="#ea7070"/><rect x="3.43" y="48.02" width="3.48" height="3.48" fill="#d6d6d6"/><circle cx="5.15" cy="49.74" r="1.72" fill="#f0b0b0"/><rect x="6.86" y="48.02" width="3.48" height="3.48" fill="#d6d6d6"/><circle cx="8.58" cy="49.74" r="1.72" fill="#aaaaaa"/><rect x="10.29" y="48.02" width="3.48" height="3.48" fill="#d6d6d6"/><circle cx="12.01" cy="49.74" r="1.72" fill="#ea7070"/><rect x="13.72" y="48.02" width="3.48" height="3.48" fill="#d6d6d6"/><circle cx="15.44" cy="49.74" r="1.72" fill="#ea7070"/><rect x="17.15" y="48.02" width="3.48" height="3.48" fill="#d6d6d6"/><circle cx="18.87" cy="49.74" r="1.72" fill="#ea7070"/><rect x="20.58" y="48.02" width="3.48" height="3.48" fill="#d6d6d6"/><circle cx="22.30" cy="49.74" r="1.72" fill="#ea7070"/><rect x="24.01" y="48.02" width="3.48" height="3.48" fill="#d6d6d6"/><circle cx="25.73" cy="49.74" r="1.72" fill="#ea7070"/><rect x="27.44" y="48.02" width="3.48" height="3.48" fill="#d6d6d6"/><circle cx="29.16" cy="49.74" r="1.72" fill="#ea7070"/><rect x="30.87" y="48.02" width="3.48" height="3.48" fill="#d6d6d6"/><circle cx="32.59" cy="49.74" r="1.72" fill="#ea7070"/><rect x="34.30" y="48.02" width="3.48" height="3.48" fill="#d6d6d6"/><circle cx="36.02" cy="49.74" r="1.72" fill="#aaaaaa"/><rect x="37.73" y="48.02" width="3.48" height="3.48" fill="#d6d6d6"/><circle cx="39.45" cy="49.74" r="1.72" fill="#aaaaaa"/><rect x="41.16" y="48.02" width="3.48" height="3.48" fill="#d6d6d6"/><circle cx="42.88" cy="49.74" r="1.72" fill="#8ccc8c"/><rect x="44.59" y="48.02" width="3.48" height="3.48" fill="#d6d6d6"/><circle cx="46.31" cy="49.74" r="1.72" fill="#8ccc8c"/><rect x="48.02" y="48.02" width="3.48" height="3.48" fill="#d6d6d6"/><circle cx="49.74" cy="49.74" r="1.72" fill="#aaaaaa"/><rect x="51.45" y="48.02" width="3.48" height="3.48" fill="#d6d6d6"/><circle cx="53.17" cy="49.74" r="1.72" fill="#ea7070"/><rect x="54.88" y="48.02" width="3.48" height="3.48" fill="#d6d6d6"/><circle cx="56.60" cy="49.74" r="1.72" fill="#ea7070"/><rect x="58.31" y="48.02" width="3.48" height="3.48" fill="#d6d6d6"/><circle cx="60.03" cy="49.74" r="1.72" fill="#ea7070"/><rect x="61.74" y="48.02" width="3.48" height="3.48" fill="#d6d6d6"/><circle cx="63.46" cy="49.74" r="1.72" fill="#ea7070"/><rect x="65.17" y="48.02" width="3.48" height="3.48" fill="#d6d6d6"/><circle cx="66.89" cy="49.74" r="1.72" fill="#ea7070"/><rect x="0.00" y="51.45" width="3.48" height="3.48" fill="#d6d6d6"/><circle cx="1.72" cy="53.17" r="1.72" fill="#ea7070"/><rect x="3.43" y="51.45" width="3.48" height="3.48" fill="#d6d6d6"/><circle cx="5.15" cy="53.17" r="1.72" fill="#ea7070"/><rect x="6.86" y="51.45" width="3.48" height="3.48" fill="#d6d6d6"/><circle cx="8.58" cy="53.17" r="1.72" fill="#8ccc8c"/><rect x="10.29" y="51.45" width="3.48" height="3.48" fill="#d6d6d6"/><circle cx="12.01" cy="53.17" r="1.72" fill="#aaaaaa"/><rect x="13.72" y="51.45" width="3.48" height="3.48" fill="#d6d6d6"/><circle cx="15.44" cy="53.17" r="1.72" fill="#ea7070"/><rect x="17.15" y="51.45" width="3.48" height="3.48" fill="#d6d6d6"/><circle cx="18.87" cy="53.17" r="1.72" fill="#ea7070"/><rect x="20.58" y="51.45" width="3.48" height="3.48" fill="#d6d6d6"/><circle cx="22.30" cy="53.17" r="1.72" fill="#ea7070"/><rect x="24.01" y="51.45" width="3.48" height="3.48" fill="#d6d6d6"/><circle cx="25.73" cy="53.17" r="1.72" fill="#ea7070"/><rect x="27.44" y="51.45" width="3.48" height="3.48" fill="#d6d6d6"/><circle cx="29.16" cy="53.17" r="1.72" fill="#ea7070"/><rect x="30.87" y="51.45" width="3.48" height="3.48" fill="#d6d6d6"/><circle cx="32.59" cy="53.17" r="1.72" fill="#aaaaaa"/><rect x="34.30" y="51.45" width="3.48" height="3.48" fill="#d6d6d6"/><circle cx="36.02" cy="53.17" r="1.72" fill="#8ccc8c"/><rect x="37.73" y="51.45" width="3.48" height="3.48" fill="#d6d6d6"/><circle cx="39.45" cy="53.17" r="1.72" fill="#8ccc8c"/><rect x="41.16" y="51.45" width="3.48" height="3.48" fill="#d6d6d6"/><circle cx="42.88" cy="53.17" r="1.72" fill="#8ccc8c"/><rect x="44.59" y="51.45" width="3.48" height="3.48" fill="#d6d6d6"/><circle cx="46.31" cy="53.17" r="1.72" fill="#8ccc8c"/><rect x="48.02" y="51.45" width="3.48" height="3.48" fill="#d6d6d6"/><circle cx="49.74" cy="53.17" r="1.72" fill="#ea7070"/><rect x="51.45" y="51.45" width="3.48" height="3.48" fill="#d6d6d6"/><circle cx="53.17" cy="53.17" r="1.72" fill="#ea7070"/><rect x="54.88" y="51.45" width="3.48" height="3.48" fill="#d6d6d6"/><circle cx="56.60" cy="53.17" r="1.72" fill="#ea7070"/><rect x="58.31" y="51.45" width="3.48" height="3.48" fill="#d6d6d6"/><circle cx="60.03" cy="53.17" r="1.72" fill="#ea7070"/><rect x="61.74" y="51.45" width="3.48" height="3.48" fill="#d6d6d6"/><circle cx="63.46" cy="53.17" r="1.72" fill="#ea7070"/><rect x="65.17" y="51.45" width="3.48" height="3.48" fill="#d6d6d6"/><circle cx="66.89" cy="53.17" r="1.72" fill="#aaaaaa"/><rect x="0.00" y="54.88" width="3.48" height="3.48" fill="#d6d6d6"/><circle cx="1.72" cy="56.60" r="1.72" fill="#ea7070"/><rect x="3.43" y="54.88" width="3.48" height="3.48" fill="#d6d6d6"/><circle cx="5.15" cy="56.60" r="1.72" fill="#ea7070"/><rect x="6.86" y="54.88" width="3.48" height="3.48" fill="#d6d6d6"/><circle cx="8.58" cy="56.60" r="1.72" fill="#aaaaaa"/><rect x="10.29" y="54.88" width="3.48" height="3.48" fill="#d6d6d6"/><circle cx="12.01" cy="56.60" r="1.72" fill="#8ccc8c"/><rect x="13.72" y="54.88" width="3.48" height="3.48" fill="#d6d6d6"/><circle cx="15.44" cy="56.60" r="1.72" fill="#8ccc8c"/><rect x="17.15" y="54.88" width="3.48" height="3.48" fill="#d6d6d6"/><circle cx="18.87" cy="56.60" r="1.72" fill="#aaaaaa"/><rect x="20.58" y="54.88" width="3.48" height="3.48" fill="#d6d6d6"/><circle cx="22.30" cy="56.60" r="1.72" fill="#aaaaaa"/><rect x="24.01" y="54.88" width="3.48" height="3.48" fill="#d6d6d6"/><circle cx="25.73" cy="56.60" r="1.72" fill="#ea7070"/><rect x="27.44" y="54.88" width="3.48" height="3.48" fill="#d6d6d6"/><circle cx="29.16" cy="56.60" r="1.72" fill="#ea7070"/><rect x="30.87" y="54.88" width="3.48" height="3.48" fill="#d6d6d6"/><circle cx="32.59" cy="56.60" r="1.72" fill="#ea7070"/><rect x="34.30" y="54.88" width="3.48" height="3.48" fill="#d6d6d6"/><circle cx="36.02" cy="56.60" r="1.72" fill="#aaaaaa"/><rect x="37.73" y="54.88" width="3.48" height="3.48" fill="#d6d6d6"/><circle cx="39.45" cy="56.60" r="1.72" fill="#aaaaaa"/><rect x="41.16" y="54.88" width="3.48" height="3.48" fill="#d6d6d6"/><circle cx="42.88" cy="56.60" r="1.72" fill="#8ccc8c"/><rect x="44.59" y="54.88" width="3.48" height="3.48" fill="#d6d6d6"/><circle cx="46.31" cy="56.60" r="1.72" fill="#8ccc8c"/><rect x="48.02" y="54.88" width="3.48" height="3.48" fill="#d6d6d6"/><circle cx="49.74" cy="56.60" r="1.72" fill="#f0b0b0"/><rect x="51.45" y="54.88" width="3.48" height="3.48" fill="#d6d6d6"/><circle cx="53.17" cy="56.60" r="1.72" fill="#ea7070"/><rect x="54.88" y="54.88" width="3.48" height="3.48" fill="#d6d6d6"/><circle cx="56.60" cy="56.60" r="1.72" fill="#f0b0b0"/><rect x="58.31" y="54.88" width="3.48" height="3.48" fill="#d6d6d6"/><circle cx="60.03" cy="56.60" r="1.72" fill="#ea7070"/><rect x="61.74" y="54.88" width="3.48" height="3.48" fill="#d6d6d6"/><circle cx="63.46" cy="56.60" r="1.72" fill="#aaaaaa"/><rect x="65.17" y="54.88" width="3.48" height="3.48" fill="#d6d6d6"/><circle cx="66.89" cy="56.60" r="1.72" fill="#aaaaaa"/><circle cx="8.58" cy="1.72" r="1.65" fill="#111"/><circle cx="49.74" cy="8.58" r="1.65" fill="#111"/><circle cx="12.01" cy="12.01" r="1.65" fill="#111"/><circle cx="53.17" cy="15.44" r="1.65" fill="#111"/><circle cx="36.02" cy="18.87" r="1.65" fill="#111"/><circle cx="63.46" cy="18.87" r="1.65" fill="#111"/><circle cx="29.16" cy="22.30" r="1.65" fill="#111"/><circle cx="39.45" cy="25.73" r="1.65" fill="#111"/><circle cx="42.88" cy="29.16" r="1.65" fill="#111"/><circle cx="8.58" cy="32.59" r="1.65" fill="#111"/><circle cx="22.30" cy="32.59" r="1.65" fill="#111"/><circle cx="25.73" cy="32.59" r="1.65" fill="#111"/><circle cx="39.45" cy="32.59" r="1.65" fill="#111"/><circle cx="49.74" cy="32.59" r="1.65" fill="#111"/><circle cx="12.01" cy="36.02" r="1.65" fill="#111"/><circle cx="66.89" cy="36.02" r="1.65" fill="#111"/><circle cx="1.72" cy="39.45" r="1.65" fill="#111"/><circle cx="12.01" cy="39.45" r="1.65" fill="#111"/><circle cx="15.44" cy="39.45" r="1.65" fill="#111"/><circle cx="46.31" cy="39.45" r="1.65" fill="#111"/><circle cx="18.87" cy="46.31" r="1.65" fill="#111"/><circle cx="32.59" cy="49.74" r="1.65" fill="#111"/><circle cx="46.31" cy="49.74" r="1.65" fill="#111"/><circle cx="29.16" cy="53.17" r="1.65" fill="#111"/>
</g>
<polygon points="103,107 140,98 201,112 160,121" fill="#bfc2c2"/>
<polygon points="103,107 160,121 160,201 103,189" fill="#d9dddc"/>
<polygon points="160,121 201,112 201,186 160,201" fill="#e3e6e5"/>
<polyline points="103,107 140,98 201,112 201,186 160,201 103,189 103,107" fill="none" stroke="#b4b8b8" stroke-width="1.2"/>
<polyline points="103,107 160,121 201,112 M160,121" fill="none" stroke="#c9cccc" stroke-width="1"/>
<line x1="160" y1="121" x2="160" y2="201" stroke="#cdd0d0" stroke-width="1"/>
<polygon points="117,128 141,131 141,177 117,172" fill="#83a09a" opacity="0.95"/>
<polygon points="141,113 171,122 171,184 141,178" fill="#67837d"/>
<polygon points="166,121 171,122 171,184 166,183" fill="#4b625e"/>
<polygon points="117,128 141,131 141,113" fill="none"/>
<line x1="97" y1="160.3" x2="125" y2="154.5" stroke="#5fe65f" stroke-width="6.5" opacity="0.85"/>
<line x1="125" y1="154.5" x2="140" y2="151.5" stroke="#7fd07f" stroke-width="6" opacity="0.5"/>
<line x1="168" y1="151" x2="225" y2="103" stroke="#c8f5b8" stroke-width="1.3" opacity="0.85"/>
<line x1="168" y1="151" x2="245" y2="112" stroke="#c8f5b8" stroke-width="1.3" opacity="0.85"/>
<line x1="168" y1="151" x2="255" y2="128" stroke="#c8f5b8" stroke-width="1.3" opacity="0.85"/>
<line x1="168" y1="151" x2="250" y2="140" stroke="#c8f5b8" stroke-width="1.3" opacity="0.85"/>
<line x1="168" y1="151" x2="235" y2="150" stroke="#c8f5b8" stroke-width="1.3" opacity="0.85"/>
<line x1="168" y1="151" x2="215" y2="156" stroke="#c8f5b8" stroke-width="1.3" opacity="0.85"/>
<line x1="168" y1="151" x2="200" y2="152" stroke="#c8f5b8" stroke-width="1.3" opacity="0.85"/>
<text x="155.8" y="63.8" font-size="11" text-anchor="middle" fill="#222" font-style="normal" transform="matrix(1,0.305,0,1,0,-47.52)">Dynamic keys</text>
<text x="156.5" y="76.5" font-size="11" text-anchor="middle" fill="#222" font-style="italic" transform="matrix(1,0.305,0,1,0,-47.73)">K(t)</text>
<g transform="translate(123,80) rotate(13) scale(1.0)" stroke="#58a558" fill="#58a558">
<line x1="3" y1="0" x2="14" y2="0" stroke-width="2.6"/><polygon points="0,0 6,-3.5 6,3.5" stroke="none"/>
<line x1="19" y1="0" x2="30" y2="0" stroke-width="2.6"/><polygon points="34,0 28,-3.5 28,3.5" stroke="none"/>
<path d="M37,4 C37,-4 47,-4 47,4" fill="none" stroke-width="2.2"/>
<line x1="53" y1="-5" x2="53" y2="2" stroke-width="2.6"/><polygon points="53,6 49.5,0 56.5,0" stroke="none"/>
</g>
<text x="149.4" y="217" font-size="11" text-anchor="middle" fill="#222" font-style="normal" transform="matrix(1,0.22,0,1,0,-32.87)">Grating</text>
<text x="149.7" y="231" font-size="11" text-anchor="middle" fill="#222" font-style="normal" transform="matrix(1,0.23,0,1,0,-34.43)">encryption</text>
<text x="149.7" y="243.4" font-size="11" text-anchor="middle" fill="#222" font-style="normal" transform="matrix(1,0.25,0,1,0,-37.42)">systems</text>
<text x="230.5" y="173" font-size="11" text-anchor="middle" fill="#222" font-style="normal" transform="matrix(1,0.286,0,1,0,-65.92)">Ciphertext</text>
<g filter="url(#b4)">
<ellipse cx="293" cy="46" rx="24" ry="19" fill="#7a7a7a"/>
<ellipse cx="283" cy="38" rx="13" ry="11" fill="#8c8c8c"/>
<ellipse cx="320" cy="58" rx="22" ry="13" fill="#848484"/>
<ellipse cx="333" cy="66" rx="10" ry="8" fill="#8a8a8a"/>
</g>
<g filter="url(#b2)" opacity="0.7">
<ellipse cx="296" cy="50" rx="11" ry="9" fill="#5c5c5c"/>
<ellipse cx="283" cy="42" rx="6" ry="6" fill="#a8a8a8"/>
<ellipse cx="318" cy="56" rx="8" ry="6" fill="#676767"/>
</g>
<text x="310.3" y="21.1" font-size="11" text-anchor="middle" fill="#222" font-style="normal" transform="matrix(1,0.275,0,1,0,-85.33)">Damage</text>
<g transform="matrix(1,0.356,0,1,360.2,7.6)">
<rect x="0.00" y="0.00" width="3.55" height="3.55" fill="#d6d6d6"/><circle cx="1.75" cy="1.75" r="1.75" fill="#a8a8a8"/><rect x="3.50" y="0.00" width="3.55" height="3.55" fill="#d6d6d6"/><circle cx="5.25" cy="1.75" r="1.75" fill="#86cf86"/><rect x="7.00" y="0.00" width="3.55" height="3.55" fill="#d6d6d6"/><circle cx="8.75" cy="1.75" r="1.75" fill="#f2b0b0"/><rect x="10.50" y="0.00" width="3.55" height="3.55" fill="#d6d6d6"/><circle cx="12.25" cy="1.75" r="1.75" fill="#ea7070"/><rect x="14.00" y="0.00" width="3.55" height="3.55" fill="#d6d6d6"/><circle cx="15.75" cy="1.75" r="1.75" fill="#f4e8e8"/><rect x="17.50" y="0.00" width="3.55" height="3.55" fill="#d6d6d6"/><circle cx="19.25" cy="1.75" r="1.75" fill="#a8a8a8"/><rect x="24.50" y="0.00" width="3.55" height="3.55" fill="#d6d6d6"/><circle cx="26.25" cy="1.75" r="1.75" fill="#86cf86"/><rect x="28.00" y="0.00" width="3.55" height="3.55" fill="#d6d6d6"/><circle cx="29.75" cy="1.75" r="1.75" fill="#86cf86"/><rect x="31.50" y="0.00" width="3.55" height="3.55" fill="#d6d6d6"/><circle cx="33.25" cy="1.75" r="1.75" fill="#86cf86"/><rect x="35.00" y="0.00" width="3.55" height="3.55" fill="#d6d6d6"/><circle cx="36.75" cy="1.75" r="1.75" fill="#86cf86"/><rect x="38.50" y="0.00" width="3.55" height="3.55" fill="#d6d6d6"/><circle cx="40.25" cy="1.75" r="1.75" fill="#86cf86"/><rect x="42.00" y="0.00" width="3.55" height="3.55" fill="#d6d6d6"/><circle cx="43.75" cy="1.75" r="1.75" fill="#86cf86"/><rect x="45.50" y="0.00" width="3.55" height="3.55" fill="#d6d6d6"/><circle cx="47.25" cy="1.75" r="1.75" fill="#86cf86"/><rect x="49.00" y="0.00" width="3.55" height="3.55" fill="#d6d6d6"/><circle cx="50.75" cy="1.75" r="1.75" fill="#86cf86"/><rect x="0.00" y="3.50" width="3.55" height="3.55" fill="#d6d6d6"/><circle cx="1.75" cy="5.25" r="1.75" fill="#a8a8a8"/><rect x="3.50" y="3.50" width="3.55" height="3.55" fill="#d6d6d6"/><circle cx="5.25" cy="5.25" r="1.75" fill="#ea7070"/><rect x="7.00" y="3.50" width="3.55" height="3.55" fill="#d6d6d6"/><circle cx="8.75" cy="5.25" r="1.75" fill="#f2b0b0"/><rect x="10.50" y="3.50" width="3.55" height="3.55" fill="#d6d6d6"/><circle cx="12.25" cy="5.25" r="1.75" fill="#ea7070"/><rect x="14.00" y="3.50" width="3.55" height="3.55" fill="#d6d6d6"/><circle cx="15.75" cy="5.25" r="1.75" fill="#ea7070"/><rect x="17.50" y="3.50" width="3.55" height="3.55" fill="#d6d6d6"/><circle cx="19.25" cy="5.25" r="1.75" fill="#ea7070"/><rect x="24.50" y="3.50" width="3.55" height="3.55" fill="#d6d6d6"/><circle cx="26.25" cy="5.25" r="1.75" fill="#ea7070"/><rect x="28.00" y="3.50" width="3.55" height="3.55" fill="#d6d6d6"/><circle cx="29.75" cy="5.25" r="1.75" fill="#ea7070"/><rect x="31.50" y="3.50" width="3.55" height="3.55" fill="#d6d6d6"/><circle cx="33.25" cy="5.25" r="1.75" fill="#ea7070"/><rect x="35.00" y="3.50" width="3.55" height="3.55" fill="#d6d6d6"/><circle cx="36.75" cy="5.25" r="1.75" fill="#a8a8a8"/><rect x="38.50" y="3.50" width="3.55" height="3.55" fill="#d6d6d6"/><circle cx="40.25" cy="5.25" r="1.75" fill="#86cf86"/><rect x="42.00" y="3.50" width="3.55" height="3.55" fill="#d6d6d6"/><circle cx="43.75" cy="5.25" r="1.75" fill="#86cf86"/><rect x="45.50" y="3.50" width="3.55" height="3.55" fill="#d6d6d6"/><circle cx="47.25" cy="5.25" r="1.75" fill="#f2b0b0"/><rect x="49.00" y="3.50" width="3.55" height="3.55" fill="#d6d6d6"/><circle cx="50.75" cy="5.25" r="1.75" fill="#ea7070"/><rect x="0.00" y="7.00" width="3.55" height="3.55" fill="#d6d6d6"/><circle cx="1.75" cy="8.75" r="1.75" fill="#ea7070"/><rect x="3.50" y="7.00" width="3.55" height="3.55" fill="#d6d6d6"/><circle cx="5.25" cy="8.75" r="1.75" fill="#f4e8e8"/><rect x="7.00" y="7.00" width="3.55" height="3.55" fill="#d6d6d6"/><circle cx="8.75" cy="8.75" r="1.75" fill="#ea7070"/><rect x="10.50" y="7.00" width="3.55" height="3.55" fill="#d6d6d6"/><circle cx="12.25" cy="8.75" r="1.75" fill="#ea7070"/><rect x="14.00" y="7.00" width="3.55" height="3.55" fill="#d6d6d6"/><circle cx="15.75" cy="8.75" r="1.75" fill="#ea7070"/><rect x="17.50" y="7.00" width="3.55" height="3.55" fill="#d6d6d6"/><circle cx="19.25" cy="8.75" r="1.75" fill="#f2b0b0"/><rect x="24.50" y="7.00" width="3.55" height="3.55" fill="#d6d6d6"/><circle cx="26.25" cy="8.75" r="1.75" fill="#ea7070"/><rect x="28.00" y="7.00" width="3.55" height="3.55" fill="#d6d6d6"/><circle cx="29.75" cy="8.75" r="1.75" fill="#f4e8e8"/><rect x="31.50" y="7.00" width="3.55" height="3.55" fill="#d6d6d6"/><circle cx="33.25" cy="8.75" r="1.75" fill="#f4e8e8"/><rect x="35.00" y="7.00" width="3.55" height="3.55" fill="#d6d6d6"/><circle cx="36.75" cy="8.75" r="1.75" fill="#f2b0b0"/><rect x="38.50" y="7.00" width="3.55" height="3.55" fill="#d6d6d6"/><circle cx="40.25" cy="8.75" r="1.75" fill="#f2b0b0"/><rect x="42.00" y="7.00" width="3.55" height="3.55" fill="#d6d6d6"/><circle cx="43.75" cy="8.75" r="1.75" fill="#f2b0b0"/><rect x="45.50" y="7.00" width="3.55" height="3.55" fill="#d6d6d6"/><circle cx="47.25" cy="8.75" r="1.75" fill="#ea7070"/><rect x="49.00" y="7.00" width="3.55" height="3.55" fill="#d6d6d6"/><circle cx="50.75" cy="8.75" r="1.75" fill="#f4e8e8"/><rect x="0.00" y="10.50" width="3.55" height="3.55" fill="#d6d6d6"/><circle cx="1.75" cy="12.25" r="1.75" fill="#ea7070"/><rect x="3.50" y="10.50" width="3.55" height="3.55" fill="#d6d6d6"/><circle cx="5.25" cy="12.25" r="1.75" fill="#ea7070"/><rect x="7.00" y="10.50" width="3.55" height="3.55" fill="#d6d6d6"/><circle cx="8.75" cy="12.25" r="1.75" fill="#f2b0b0"/><rect x="10.50" y="10.50" width="3.55" height="3.55" fill="#d6d6d6"/><circle cx="12.25" cy="12.25" r="1.75" fill="#f2b0b0"/><rect x="14.00" y="10.50" width="3.55" height="3.55" fill="#d6d6d6"/><circle cx="15.75" cy="12.25" r="1.75" fill="#f4e8e8"/><rect x="17.50" y="10.50" width="3.55" height="3.55" fill="#d6d6d6"/><circle cx="19.25" cy="12.25" r="1.75" fill="#f4e8e8"/><rect x="24.50" y="10.50" width="3.55" height="3.55" fill="#d6d6d6"/><circle cx="26.25" cy="12.25" r="1.75" fill="#ea7070"/><rect x="28.00" y="10.50" width="3.55" height="3.55" fill="#d6d6d6"/><circle cx="29.75" cy="12.25" r="1.75" fill="#f4e8e8"/><rect x="31.50" y="10.50" width="3.55" height="3.55" fill="#d6d6d6"/><circle cx="33.25" cy="12.25" r="1.75" fill="#ea7070"/><rect x="35.00" y="10.50" width="3.55" height="3.55" fill="#d6d6d6"/><circle cx="36.75" cy="12.25" r="1.75" fill="#ea7070"/><rect x="38.50" y="10.50" width="3.55" height="3.55" fill="#d6d6d6"/><circle cx="40.25" cy="12.25" r="1.75" fill="#ea7070"/><rect x="42.00" y="10.50" width="3.55" height="3.55" fill="#d6d6d6"/><circle cx="43.75" cy="12.25" r="1.75" fill="#a8a8a8"/><rect x="45.50" y="10.50" width="3.55" height="3.55" fill="#d6d6d6"/><circle cx="47.25" cy="12.25" r="1.75" fill="#ea7070"/><rect x="49.00" y="10.50" width="3.55" height="3.55" fill="#d6d6d6"/><circle cx="50.75" cy="12.25" r="1.75" fill="#ea7070"/><rect x="0.00" y="14.00" width="3.55" height="3.55" fill="#d6d6d6"/><circle cx="1.75" cy="15.75" r="1.75" fill="#ea7070"/><rect x="3.50" y="14.00" width="3.55" height="3.55" fill="#d6d6d6"/><circle cx="5.25" cy="15.75" r="1.75" fill="#ea7070"/><rect x="7.00" y="14.00" width="3.55" height="3.55" fill="#d6d6d6"/><circle cx="8.75" cy="15.75" r="1.75" fill="#a8a8a8"/><rect x="10.50" y="14.00" width="3.55" height="3.55" fill="#d6d6d6"/><circle cx="12.25" cy="15.75" r="1.75" fill="#ea7070"/><rect x="14.00" y="14.00" width="3.55" height="3.55" fill="#d6d6d6"/><circle cx="15.75" cy="15.75" r="1.75" fill="#f4e8e8"/><rect x="17.50" y="14.00" width="3.55" height="3.55" fill="#d6d6d6"/><circle cx="19.25" cy="15.75" r="1.75" fill="#ea7070"/><rect x="24.50" y="14.00" width="3.55" height="3.55" fill="#d6d6d6"/><circle cx="26.25" cy="15.75" r="1.75" fill="#ea7070"/><rect x="28.00" y="14.00" width="3.55" height="3.55" fill="#d6d6d6"/><circle cx="29.75" cy="15.75" r="1.75" fill="#ea7070"/><rect x="31.50" y="14.00" width="3.55" height="3.55" fill="#d6d6d6"/><circle cx="33.25" cy="15.75" r="1.75" fill="#f4e8e8"/><rect x="35.00" y="14.00" width="3.55" height="3.55" fill="#d6d6d6"/><circle cx="36.75" cy="15.75" r="1.75" fill="#f4e8e8"/><rect x="38.50" y="14.00" width="3.55" height="3.55" fill="#d6d6d6"/><circle cx="40.25" cy="15.75" r="1.75" fill="#f2b0b0"/><rect x="42.00" y="14.00" width="3.55" height="3.55" fill="#d6d6d6"/><circle cx="43.75" cy="15.75" r="1.75" fill="#86cf86"/><rect x="45.50" y="14.00" width="3.55" height="3.55" fill="#d6d6d6"/><circle cx="47.25" cy="15.75" r="1.75" fill="#ea7070"/><rect x="49.00" y="14.00" width="3.55" height="3.55" fill="#d6d6d6"/><circle cx="50.75" cy="15.75" r="1.75" fill="#f4e8e8"/><rect x="0.00" y="17.50" width="3.55" height="3.55" fill="#d6d6d6"/><circle cx="1.75" cy="19.25" r="1.75" fill="#a8a8a8"/><rect x="3.50" y="17.50" width="3.55" height="3.55" fill="#d6d6d6"/><circle cx="5.25" cy="19.25" r="1.75" fill="#ea7070"/><rect x="7.00" y="17.50" width="3.55" height="3.55" fill="#d6d6d6"/><circle cx="8.75" cy="19.25" r="1.75" fill="#f2b0b0"/><rect x="10.50" y="17.50" width="3.55" height="3.55" fill="#d6d6d6"/><circle cx="12.25" cy="19.25" r="1.75" fill="#f2b0b0"/><rect x="14.00" y="17.50" width="3.55" height="3.55" fill="#d6d6d6"/><circle cx="15.75" cy="19.25" r="1.75" fill="#ea7070"/><rect x="17.50" y="17.50" width="3.55" height="3.55" fill="#d6d6d6"/><circle cx="19.25" cy="19.25" r="1.75" fill="#ea7070"/><rect x="24.50" y="17.50" width="3.55" height="3.55" fill="#d6d6d6"/><circle cx="26.25" cy="19.25" r="1.75" fill="#ea7070"/><rect x="28.00" y="17.50" width="3.55" height="3.55" fill="#d6d6d6"/><circle cx="29.75" cy="19.25" r="1.75" fill="#ea7070"/><rect x="31.50" y="17.50" width="3.55" height="3.55" fill="#d6d6d6"/><circle cx="33.25" cy="19.25" r="1.75" fill="#ea7070"/><rect x="35.00" y="17.50" width="3.55" height="3.55" fill="#d6d6d6"/><circle cx="36.75" cy="19.25" r="1.75" fill="#a8a8a8"/><rect x="38.50" y="17.50" width="3.55" height="3.55" fill="#d6d6d6"/><circle cx="40.25" cy="19.25" r="1.75" fill="#a8a8a8"/><rect x="42.00" y="17.50" width="3.55" height="3.55" fill="#d6d6d6"/><circle cx="43.75" cy="19.25" r="1.75" fill="#ea7070"/><rect x="45.50" y="17.50" width="3.55" height="3.55" fill="#d6d6d6"/><circle cx="47.25" cy="19.25" r="1.75" fill="#a8a8a8"/><rect x="49.00" y="17.50" width="3.55" height="3.55" fill="#d6d6d6"/><circle cx="50.75" cy="19.25" r="1.75" fill="#f2b0b0"/><rect x="0.00" y="21.00" width="3.55" height="3.55" fill="#d6d6d6"/><circle cx="1.75" cy="22.75" r="1.75" fill="#a8a8a8"/><rect x="3.50" y="21.00" width="3.55" height="3.55" fill="#d6d6d6"/><circle cx="5.25" cy="22.75" r="1.75" fill="#f2b0b0"/><rect x="21.00" y="21.00" width="3.55" height="3.55" fill="#d6d6d6"/><circle cx="22.75" cy="22.75" r="1.75" fill="#a8a8a8"/><rect x="38.50" y="21.00" width="3.55" height="3.55" fill="#d6d6d6"/><circle cx="40.25" cy="22.75" r="1.75" fill="#a8a8a8"/><rect x="42.00" y="21.00" width="3.55" height="3.55" fill="#d6d6d6"/><circle cx="43.75" cy="22.75" r="1.75" fill="#ea7070"/><rect x="45.50" y="21.00" width="3.55" height="3.55" fill="#d6d6d6"/><circle cx="47.25" cy="22.75" r="1.75" fill="#a8a8a8"/><rect x="49.00" y="21.00" width="3.55" height="3.55" fill="#d6d6d6"/><circle cx="50.75" cy="22.75" r="1.75" fill="#86cf86"/><rect x="0.00" y="24.50" width="3.55" height="3.55" fill="#d6d6d6"/><circle cx="1.75" cy="26.25" r="1.75" fill="#a8a8a8"/><rect x="3.50" y="24.50" width="3.55" height="3.55" fill="#d6d6d6"/><circle cx="5.25" cy="26.25" r="1.75" fill="#86cf86"/><rect x="7.00" y="24.50" width="3.55" height="3.55" fill="#d6d6d6"/><circle cx="8.75" cy="26.25" r="1.75" fill="#f2b0b0"/><rect x="10.50" y="24.50" width="3.55" height="3.55" fill="#d6d6d6"/><circle cx="12.25" cy="26.25" r="1.75" fill="#a8a8a8"/><rect x="14.00" y="24.50" width="3.55" height="3.55" fill="#d6d6d6"/><circle cx="15.75" cy="26.25" r="1.75" fill="#a8a8a8"/><rect x="17.50" y="24.50" width="3.55" height="3.55" fill="#d6d6d6"/><circle cx="19.25" cy="26.25" r="1.75" fill="#a8a8a8"/><rect x="21.00" y="24.50" width="3.55" height="3.55" fill="#d6d6d6"/><circle cx="22.75" cy="26.25" r="1.75" fill="#f2b0b0"/><rect x="24.50" y="24.50" width="3.55" height="3.55" fill="#d6d6d6"/><circle cx="26.25" cy="26.25" r="1.75" fill="#f2b0b0"/><rect x="28.00" y="24.50" width="3.55" height="3.55" fill="#d6d6d6"/><circle cx="29.75" cy="26.25" r="1.75" fill="#a8a8a8"/><rect x="31.50" y="24.50" width="3.55" height="3.55" fill="#d6d6d6"/><circle cx="33.25" cy="26.25" r="1.75" fill="#a8a8a8"/><rect x="35.00" y="24.50" width="3.55" height="3.55" fill="#d6d6d6"/><circle cx="36.75" cy="26.25" r="1.75" fill="#86cf86"/><rect x="38.50" y="24.50" width="3.55" height="3.55" fill="#d6d6d6"/><circle cx="40.25" cy="26.25" r="1.75" fill="#86cf86"/><rect x="42.00" y="24.50" width="3.55" height="3.55" fill="#d6d6d6"/><circle cx="43.75" cy="26.25" r="1.75" fill="#ea7070"/><rect x="45.50" y="24.50" width="3.55" height="3.55" fill="#d6d6d6"/><circle cx="47.25" cy="26.25" r="1.75" fill="#86cf86"/><rect x="49.00" y="24.50" width="3.55" height="3.55" fill="#d6d6d6"/><circle cx="50.75" cy="26.25" r="1.75" fill="#86cf86"/><rect x="0.00" y="28.00" width="3.55" height="3.55" fill="#d6d6d6"/><circle cx="1.75" cy="29.75" r="1.75" fill="#a8a8a8"/><rect x="3.50" y="28.00" width="3.55" height="3.55" fill="#d6d6d6"/><circle cx="5.25" cy="29.75" r="1.75" fill="#a8a8a8"/><rect x="7.00" y="28.00" width="3.55" height="3.55" fill="#d6d6d6"/><circle cx="8.75" cy="29.75" r="1.75" fill="#ea7070"/><rect x="10.50" y="28.00" width="3.55" height="3.55" fill="#d6d6d6"/><circle cx="12.25" cy="29.75" r="1.75" fill="#f2b0b0"/><rect x="14.00" y="28.00" width="3.55" height="3.55" fill="#d6d6d6"/><circle cx="15.75" cy="29.75" r="1.75" fill="#f2b0b0"/><rect x="17.50" y="28.00" width="3.55" height="3.55" fill="#d6d6d6"/><circle cx="19.25" cy="29.75" r="1.75" fill="#ea7070"/><rect x="21.00" y="28.00" width="3.55" height="3.55" fill="#d6d6d6"/><circle cx="22.75" cy="29.75" r="1.75" fill="#86cf86"/><rect x="24.50" y="28.00" width="3.55" height="3.55" fill="#d6d6d6"/><circle cx="26.25" cy="29.75" r="1.75" fill="#a8a8a8"/><rect x="28.00" y="28.00" width="3.55" height="3.55" fill="#d6d6d6"/><circle cx="29.75" cy="29.75" r="1.75" fill="#86cf86"/><rect x="31.50" y="28.00" width="3.55" height="3.55" fill="#d6d6d6"/><circle cx="33.25" cy="29.75" r="1.75" fill="#a8a8a8"/><rect x="35.00" y="28.00" width="3.55" height="3.55" fill="#d6d6d6"/><circle cx="36.75" cy="29.75" r="1.75" fill="#a8a8a8"/><rect x="38.50" y="28.00" width="3.55" height="3.55" fill="#d6d6d6"/><circle cx="40.25" cy="29.75" r="1.75" fill="#a8a8a8"/><rect x="42.00" y="28.00" width="3.55" height="3.55" fill="#d6d6d6"/><circle cx="43.75" cy="29.75" r="1.75" fill="#86cf86"/><rect x="45.50" y="28.00" width="3.55" height="3.55" fill="#d6d6d6"/><circle cx="47.25" cy="29.75" r="1.75" fill="#86cf86"/><rect x="49.00" y="28.00" width="3.55" height="3.55" fill="#d6d6d6"/><circle cx="50.75" cy="29.75" r="1.75" fill="#86cf86"/><rect x="0.00" y="31.50" width="3.55" height="3.55" fill="#d6d6d6"/><circle cx="1.75" cy="33.25" r="1.75" fill="#a8a8a8"/><rect x="3.50" y="31.50" width="3.55" height="3.55" fill="#d6d6d6"/><circle cx="5.25" cy="33.25" r="1.75" fill="#a8a8a8"/><rect x="7.00" y="31.50" width="3.55" height="3.55" fill="#d6d6d6"/><circle cx="8.75" cy="33.25" r="1.75" fill="#ea7070"/><rect x="10.50" y="31.50" width="3.55" height="3.55" fill="#d6d6d6"/><circle cx="12.25" cy="33.25" r="1.75" fill="#f4e8e8"/><rect x="14.00" y="31.50" width="3.55" height="3.55" fill="#d6d6d6"/><circle cx="15.75" cy="33.25" r="1.75" fill="#ea7070"/><rect x="17.50" y="31.50" width="3.55" height="3.55" fill="#d6d6d6"/><circle cx="19.25" cy="33.25" r="1.75" fill="#f4e8e8"/><rect x="21.00" y="31.50" width="3.55" height="3.55" fill="#d6d6d6"/><circle cx="22.75" cy="33.25" r="1.75" fill="#ea7070"/><rect x="35.00" y="31.50" width="3.55" height="3.55" fill="#d6d6d6"/><circle cx="36.75" cy="33.25" r="1.75" fill="#86cf86"/><rect x="38.50" y="31.50" width="3.55" height="3.55" fill="#d6d6d6"/><circle cx="40.25" cy="33.25" r="1.75" fill="#86cf86"/><rect x="42.00" y="31.50" width="3.55" height="3.55" fill="#d6d6d6"/><circle cx="43.75" cy="33.25" r="1.75" fill="#86cf86"/><rect x="45.50" y="31.50" width="3.55" height="3.55" fill="#d6d6d6"/><circle cx="47.25" cy="33.25" r="1.75" fill="#a8a8a8"/><rect x="49.00" y="31.50" width="3.55" height="3.55" fill="#d6d6d6"/><circle cx="50.75" cy="33.25" r="1.75" fill="#86cf86"/><rect x="0.00" y="35.00" width="3.55" height="3.55" fill="#d6d6d6"/><circle cx="1.75" cy="36.75" r="1.75" fill="#f2b0b0"/><rect x="3.50" y="35.00" width="3.55" height="3.55" fill="#d6d6d6"/><circle cx="5.25" cy="36.75" r="1.75" fill="#f2b0b0"/><rect x="7.00" y="35.00" width="3.55" height="3.55" fill="#d6d6d6"/><circle cx="8.75" cy="36.75" r="1.75" fill="#f2b0b0"/><rect x="10.50" y="35.00" width="3.55" height="3.55" fill="#d6d6d6"/><circle cx="12.25" cy="36.75" r="1.75" fill="#ea7070"/><rect x="14.00" y="35.00" width="3.55" height="3.55" fill="#d6d6d6"/><circle cx="15.75" cy="36.75" r="1.75" fill="#f4e8e8"/><rect x="17.50" y="35.00" width="3.55" height="3.55" fill="#d6d6d6"/><circle cx="19.25" cy="36.75" r="1.75" fill="#ea7070"/><rect x="21.00" y="35.00" width="3.55" height="3.55" fill="#d6d6d6"/><circle cx="22.75" cy="36.75" r="1.75" fill="#ea7070"/><rect x="35.00" y="35.00" width="3.55" height="3.55" fill="#d6d6d6"/><circle cx="36.75" cy="36.75" r="1.75" fill="#f2b0b0"/><rect x="38.50" y="35.00" width="3.55" height="3.55" fill="#d6d6d6"/><circle cx="40.25" cy="36.75" r="1.75" fill="#f2b0b0"/><rect x="42.00" y="35.00" width="3.55" height="3.55" fill="#d6d6d6"/><circle cx="43.75" cy="36.75" r="1.75" fill="#a8a8a8"/><rect x="45.50" y="35.00" width="3.55" height="3.55" fill="#d6d6d6"/><circle cx="47.25" cy="36.75" r="1.75" fill="#86cf86"/><rect x="49.00" y="35.00" width="3.55" height="3.55" fill="#d6d6d6"/><circle cx="50.75" cy="36.75" r="1.75" fill="#86cf86"/><rect x="0.00" y="38.50" width="3.55" height="3.55" fill="#d6d6d6"/><circle cx="1.75" cy="40.25" r="1.75" fill="#ea7070"/><rect x="3.50" y="38.50" width="3.55" height="3.55" fill="#d6d6d6"/><circle cx="5.25" cy="40.25" r="1.75" fill="#f2b0b0"/><rect x="7.00" y="38.50" width="3.55" height="3.55" fill="#d6d6d6"/><circle cx="8.75" cy="40.25" r="1.75" fill="#ea7070"/><rect x="10.50" y="38.50" width="3.55" height="3.55" fill="#d6d6d6"/><circle cx="12.25" cy="40.25" r="1.75" fill="#f2b0b0"/><rect x="14.00" y="38.50" width="3.55" height="3.55" fill="#d6d6d6"/><circle cx="15.75" cy="40.25" r="1.75" fill="#a8a8a8"/><rect x="17.50" y="38.50" width="3.55" height="3.55" fill="#d6d6d6"/><circle cx="19.25" cy="40.25" r="1.75" fill="#ea7070"/><rect x="21.00" y="38.50" width="3.55" height="3.55" fill="#d6d6d6"/><circle cx="22.75" cy="40.25" r="1.75" fill="#f4e8e8"/><rect x="35.00" y="38.50" width="3.55" height="3.55" fill="#d6d6d6"/><circle cx="36.75" cy="40.25" r="1.75" fill="#f2b0b0"/><rect x="38.50" y="38.50" width="3.55" height="3.55" fill="#d6d6d6"/><circle cx="40.25" cy="40.25" r="1.75" fill="#f2b0b0"/><rect x="42.00" y="38.50" width="3.55" height="3.55" fill="#d6d6d6"/><circle cx="43.75" cy="40.25" r="1.75" fill="#f2b0b0"/><rect x="45.50" y="38.50" width="3.55" height="3.55" fill="#d6d6d6"/><circle cx="47.25" cy="40.25" r="1.75" fill="#f2b0b0"/><rect x="49.00" y="38.50" width="3.55" height="3.55" fill="#d6d6d6"/><circle cx="50.75" cy="40.25" r="1.75" fill="#f2b0b0"/><circle cx="47.25" cy="1.75" r="1.68" fill="#111"/><circle cx="12.25" cy="5.25" r="1.68" fill="#111"/><circle cx="5.25" cy="15.75" r="1.68" fill="#111"/><circle cx="19.25" cy="15.75" r="1.68" fill="#111"/><circle cx="43.75" cy="22.75" r="1.68" fill="#111"/><circle cx="8.75" cy="29.75" r="1.68" fill="#111"/><circle cx="15.75" cy="29.75" r="1.68" fill="#111"/><circle cx="22.75" cy="33.25" r="1.68" fill="#111"/><circle cx="36.75" cy="33.25" r="1.68" fill="#111"/><circle cx="40.25" cy="36.75" r="1.68" fill="#111"/>
</g>
<text x="384.2" y="71.3" font-size="11" text-anchor="middle" fill="#222" font-style="normal" transform="matrix(1,0.28,0,1,0,-107.58)">Corrupter</text>
<text x="384" y="83.6" font-size="11" text-anchor="middle" fill="#222" font-style="normal" transform="matrix(1,0.3,0,1,0,-115.20)">ciphertext</text>
<line x1="421" y1="23" x2="496.4" y2="49.7" stroke="#111" stroke-width="1.6"/>
<polygon points="503,52 495.2,53.0 497.6,46.4" fill="#111"/>
<g transform="translate(436,24) rotate(14) scale(0.9)" stroke="#58a558" fill="#58a558">
<line x1="3" y1="0" x2="14" y2="0" stroke-width="2.6"/><polygon points="0,0 6,-3.5 6,3.5" stroke="none"/>
<line x1="19" y1="0" x2="30" y2="0" stroke-width="2.6"/><polygon points="34,0 28,-3.5 28,3.5" stroke="none"/>
<path d="M37,4 C37,-4 47,-4 47,4" fill="none" stroke-width="2.2"/>
<line x1="53" y1="-5" x2="53" y2="2" stroke-width="2.6"/><polygon points="53,6 49.5,0 56.5,0" stroke="none"/>
</g>
<text x="462" y="49.6" font-size="11" text-anchor="middle" fill="#222" font-style="normal" transform="matrix(1,0.29,0,1,0,-133.98)">Transient key:</text>
<text x="464.7" y="64.4" font-size="11" text-anchor="middle" fill="#222" font-style="italic" transform="matrix(1,0.29,0,1,0,-134.76)">K(t<tspan font-size="7" dy="2">1</tspan><tspan dy="-2">)</tspan></text>
<g transform="matrix(1,0.29,0,1,508,31.7)">
<rect x="0" y="0" width="49" height="44" fill="url(#grid)"/>
<g transform="scale(0.6125,0.63)"><path d="M4,42 C8,56 24,64 40,64 C56,64 72,58 76,42 C68,48 56,50 42,50 C26,50 14,46 9,37 Z" fill="#6fd36f"/><path d="M40,4 L9,37 C16,46 28,50 42,50 C56,50 66,46 73,39 Z" fill="#f07070"/><path d="M9,37 L40,4 L73,39" fill="none" stroke="#111" stroke-width="3" stroke-dasharray="2.6 1.2"/><path d="M4,42 C8,56 24,64 40,64 C56,64 72,58 76,42" fill="none" stroke="#111" stroke-width="3" stroke-dasharray="2.6 1.2"/><path d="M9,37 C16,46 28,50 42,50 C56,50 66,46 73,39" fill="none" stroke="#111" stroke-width="2.4" stroke-dasharray="2.6 1.4"/><circle cx="40" cy="16" r="1.8" fill="#111"/><circle cx="32" cy="24" r="1.8" fill="#111"/><circle cx="46" cy="22" r="1.8" fill="#111"/><circle cx="24" cy="31" r="1.8" fill="#111"/><circle cx="38" cy="33" r="1.8" fill="#111"/><circle cx="52" cy="30" r="1.8" fill="#111"/><circle cx="30" cy="42" r="1.8" fill="#111"/><circle cx="48" cy="42" r="1.8" fill="#111"/><circle cx="60" cy="36" r="1.8" fill="#111"/></g>
</g>
<text x="533.6" y="94.6" font-size="11" text-anchor="middle" fill="#222" font-style="normal" transform="matrix(1,0.29,0,1,0,-154.74)">Plaintext</text>
<g transform="matrix(0.26,0.08,0,0.29,437,66.5)">
<rect x="0" y="0" width="80" height="70" fill="#aaa"/>
<path d="M4,42 C8,56 24,64 40,64 C56,64 72,58 76,42 C68,48 56,50 42,50 C26,50 14,46 9,37 Z" fill="#6fd36f"/><path d="M40,4 L9,37 C16,46 28,50 42,50 C56,50 66,46 73,39 Z" fill="#f07070"/><path d="M9,37 L40,4 L73,39" fill="none" stroke="#111" stroke-width="3" stroke-dasharray="2.6 1.2"/><path d="M4,42 C8,56 24,64 40,64 C56,64 72,58 76,42" fill="none" stroke="#111" stroke-width="3" stroke-dasharray="2.6 1.2"/><path d="M9,37 C16,46 28,50 42,50 C56,50 66,46 73,39" fill="none" stroke="#111" stroke-width="2.4" stroke-dasharray="2.6 1.4"/><circle cx="40" cy="16" r="1.8" fill="#111"/><circle cx="32" cy="24" r="1.8" fill="#111"/><circle cx="46" cy="22" r="1.8" fill="#111"/><circle cx="24" cy="31" r="1.8" fill="#111"/><circle cx="38" cy="33" r="1.8" fill="#111"/><circle cx="52" cy="30" r="1.8" fill="#111"/><circle cx="30" cy="42" r="1.8" fill="#111"/><circle cx="48" cy="42" r="1.8" fill="#111"/><circle cx="60" cy="36" r="1.8" fill="#111"/>
</g>
<line x1="419.5" y1="79" x2="471.4" y2="98.5" stroke="#111" stroke-width="1.6"/>
<polygon points="478,101 470.2,101.8 472.7,95.3" fill="#111"/>
<text x="444" y="98.4" font-size="11" text-anchor="middle" fill="#222" font-style="normal" transform="matrix(1,0.3,0,1,0,-133.20)">Plaintext</text>
<g transform="translate(494,99) rotate(14) scale(1.0)" stroke="#58a558" fill="#58a558">
<line x1="3" y1="0" x2="14" y2="0" stroke-width="2.6"/><polygon points="0,0 6,-3.5 6,3.5" stroke="none"/>
<line x1="19" y1="0" x2="30" y2="0" stroke-width="2.6"/><polygon points="34,0 28,-3.5 28,3.5" stroke="none"/>
<path d="M37,4 C37,-4 47,-4 47,4" fill="none" stroke-width="2.2"/>
<line x1="53" y1="-5" x2="53" y2="2" stroke-width="2.6"/><polygon points="53,6 49.5,0 56.5,0" stroke="none"/>
</g>
<text x="535" y="126.2" font-size="11" text-anchor="middle" fill="#222" font-style="normal" transform="matrix(1,0.286,0,1,0,-153.01)">Invalid transient key</text>
<text x="315" y="99" font-size="11" text-anchor="middle" fill="#222" font-style="normal" transform="matrix(1,0.32,0,1,0,-100.80)">Eavesdrop</text>
<line x1="346.7" y1="104" x2="418.4" y2="127.8" stroke="#111" stroke-width="1.6"/>
<polygon points="425,130 417.3,131.1 419.5,124.5" fill="#111"/>
<text x="382.7" y="128.5" font-size="11" text-anchor="middle" fill="#222" font-style="normal" transform="matrix(1,0.32,0,1,0,-122.46)">Without <tspan font-style="italic">K(t<tspan font-size="7" dy="2">1</tspan><tspan dy="-2">)</tspan></tspan></text>
<g transform="matrix(1,0.33,0,1,430.6,114)">
<rect x="0.00" y="0.00" width="3.50" height="3.50" fill="#8fd68f"/><rect x="3.45" y="0.00" width="3.50" height="3.50" fill="#8fd68f"/><rect x="6.90" y="0.00" width="3.50" height="3.50" fill="#b0b0b0"/><rect x="10.35" y="0.00" width="3.50" height="3.50" fill="#b0b0b0"/><rect x="13.80" y="0.00" width="3.50" height="3.50" fill="#ec6f6f"/><rect x="17.25" y="0.00" width="3.50" height="3.50" fill="#ec6f6f"/><rect x="20.70" y="0.00" width="3.50" height="3.50" fill="#ec6f6f"/><rect x="24.15" y="0.00" width="3.50" height="3.50" fill="#b0b0b0"/><rect x="27.60" y="0.00" width="3.50" height="3.50" fill="#b0b0b0"/><rect x="31.05" y="0.00" width="3.50" height="3.50" fill="#b0b0b0"/><rect x="34.50" y="0.00" width="3.50" height="3.50" fill="#b0b0b0"/><rect x="37.95" y="0.00" width="3.50" height="3.50" fill="#b0b0b0"/><rect x="41.40" y="0.00" width="3.50" height="3.50" fill="#b0b0b0"/><rect x="44.85" y="0.00" width="3.50" height="3.50" fill="#b0b0b0"/><rect x="0.00" y="3.45" width="3.50" height="3.50" fill="#8fd68f"/><rect x="3.45" y="3.45" width="3.50" height="3.50" fill="#8fd68f"/><rect x="6.90" y="3.45" width="3.50" height="3.50" fill="#b0b0b0"/><rect x="10.35" y="3.45" width="3.50" height="3.50" fill="#ec6f6f"/><rect x="13.80" y="3.45" width="3.50" height="3.50" fill="#ec6f6f"/><rect x="17.25" y="3.45" width="3.50" height="3.50" fill="#b0b0b0"/><rect x="20.70" y="3.45" width="3.50" height="3.50" fill="#b0b0b0"/><rect x="24.15" y="3.45" width="3.50" height="3.50" fill="#b0b0b0"/><rect x="27.60" y="3.45" width="3.50" height="3.50" fill="#b0b0b0"/><rect x="31.05" y="3.45" width="3.50" height="3.50" fill="#b0b0b0"/><rect x="34.50" y="3.45" width="3.50" height="3.50" fill="#b0b0b0"/><rect x="37.95" y="3.45" width="3.50" height="3.50" fill="#b0b0b0"/><rect x="41.40" y="3.45" width="3.50" height="3.50" fill="#b0b0b0"/><rect x="44.85" y="3.45" width="3.50" height="3.50" fill="#b0b0b0"/><rect x="0.00" y="6.90" width="3.50" height="3.50" fill="#ec6f6f"/><rect x="3.45" y="6.90" width="3.50" height="3.50" fill="#ec6f6f"/><rect x="6.90" y="6.90" width="3.50" height="3.50" fill="#ec6f6f"/><rect x="10.35" y="6.90" width="3.50" height="3.50" fill="#ec6f6f"/><rect x="13.80" y="6.90" width="3.50" height="3.50" fill="#ec6f6f"/><rect x="17.25" y="6.90" width="3.50" height="3.50" fill="#b0b0b0"/><rect x="20.70" y="6.90" width="3.50" height="3.50" fill="#b0b0b0"/><rect x="24.15" y="6.90" width="3.50" height="3.50" fill="#b0b0b0"/><rect x="27.60" y="6.90" width="3.50" height="3.50" fill="#b0b0b0"/><rect x="31.05" y="6.90" width="3.50" height="3.50" fill="#b0b0b0"/><rect x="34.50" y="6.90" width="3.50" height="3.50" fill="#b0b0b0"/><rect x="37.95" y="6.90" width="3.50" height="3.50" fill="#b0b0b0"/><rect x="41.40" y="6.90" width="3.50" height="3.50" fill="#b0b0b0"/><rect x="44.85" y="6.90" width="3.50" height="3.50" fill="#b0b0b0"/><rect x="0.00" y="10.35" width="3.50" height="3.50" fill="#ec6f6f"/><rect x="3.45" y="10.35" width="3.50" height="3.50" fill="#ec6f6f"/><rect x="6.90" y="10.35" width="3.50" height="3.50" fill="#ec6f6f"/><rect x="10.35" y="10.35" width="3.50" height="3.50" fill="#ec6f6f"/><rect x="13.80" y="10.35" width="3.50" height="3.50" fill="#ec6f6f"/><rect x="17.25" y="10.35" width="3.50" height="3.50" fill="#b0b0b0"/><rect x="20.70" y="10.35" width="3.50" height="3.50" fill="#b0b0b0"/><rect x="24.15" y="10.35" width="3.50" height="3.50" fill="#b0b0b0"/><rect x="27.60" y="10.35" width="3.50" height="3.50" fill="#b0b0b0"/><rect x="31.05" y="10.35" width="3.50" height="3.50" fill="#b0b0b0"/><rect x="34.50" y="10.35" width="3.50" height="3.50" fill="#b0b0b0"/><rect x="37.95" y="10.35" width="3.50" height="3.50" fill="#b0b0b0"/><rect x="41.40" y="10.35" width="3.50" height="3.50" fill="#b0b0b0"/><rect x="44.85" y="10.35" width="3.50" height="3.50" fill="#b0b0b0"/><rect x="0.00" y="13.80" width="3.50" height="3.50" fill="#ec6f6f"/><rect x="3.45" y="13.80" width="3.50" height="3.50" fill="#ec6f6f"/><rect x="6.90" y="13.80" width="3.50" height="3.50" fill="#ec6f6f"/><rect x="10.35" y="13.80" width="3.50" height="3.50" fill="#ec6f6f"/><rect x="13.80" y="13.80" width="3.50" height="3.50" fill="#ec6f6f"/><rect x="17.25" y="13.80" width="3.50" height="3.50" fill="#b0b0b0"/><rect x="20.70" y="13.80" width="3.50" height="3.50" fill="#b0b0b0"/><rect x="24.15" y="13.80" width="3.50" height="3.50" fill="#b0b0b0"/><rect x="27.60" y="13.80" width="3.50" height="3.50" fill="#b0b0b0"/><rect x="31.05" y="13.80" width="3.50" height="3.50" fill="#b0b0b0"/><rect x="34.50" y="13.80" width="3.50" height="3.50" fill="#b0b0b0"/><rect x="37.95" y="13.80" width="3.50" height="3.50" fill="#b0b0b0"/><rect x="41.40" y="13.80" width="3.50" height="3.50" fill="#b0b0b0"/><rect x="44.85" y="13.80" width="3.50" height="3.50" fill="#b0b0b0"/><rect x="0.00" y="17.25" width="3.50" height="3.50" fill="#b0b0b0"/><rect x="3.45" y="17.25" width="3.50" height="3.50" fill="#ec6f6f"/><rect x="6.90" y="17.25" width="3.50" height="3.50" fill="#ec6f6f"/><rect x="10.35" y="17.25" width="3.50" height="3.50" fill="#ec6f6f"/><rect x="13.80" y="17.25" width="3.50" height="3.50" fill="#ec6f6f"/><rect x="17.25" y="17.25" width="3.50" height="3.50" fill="#b0b0b0"/><rect x="20.70" y="17.25" width="3.50" height="3.50" fill="#b0b0b0"/><rect x="24.15" y="17.25" width="3.50" height="3.50" fill="#b0b0b0"/><rect x="27.60" y="17.25" width="3.50" height="3.50" fill="#8fd68f"/><rect x="31.05" y="17.25" width="3.50" height="3.50" fill="#8fd68f"/><rect x="34.50" y="17.25" width="3.50" height="3.50" fill="#8fd68f"/><rect x="37.95" y="17.25" width="3.50" height="3.50" fill="#8fd68f"/><rect x="41.40" y="17.25" width="3.50" height="3.50" fill="#8fd68f"/><rect x="44.85" y="17.25" width="3.50" height="3.50" fill="#8fd68f"/><rect x="0.00" y="20.70" width="3.50" height="3.50" fill="#b0b0b0"/><rect x="3.45" y="20.70" width="3.50" height="3.50" fill="#b0b0b0"/><rect x="6.90" y="20.70" width="3.50" height="3.50" fill="#ec6f6f"/><rect x="10.35" y="20.70" width="3.50" height="3.50" fill="#ec6f6f"/><rect x="13.80" y="20.70" width="3.50" height="3.50" fill="#ec6f6f"/><rect x="17.25" y="20.70" width="3.50" height="3.50" fill="#b0b0b0"/><rect x="20.70" y="20.70" width="3.50" height="3.50" fill="#b0b0b0"/><rect x="24.15" y="20.70" width="3.50" height="3.50" fill="#b0b0b0"/><rect x="27.60" y="20.70" width="3.50" height="3.50" fill="#8fd68f"/><rect x="31.05" y="20.70" width="3.50" height="3.50" fill="#8fd68f"/><rect x="34.50" y="20.70" width="3.50" height="3.50" fill="#8fd68f"/><rect x="37.95" y="20.70" width="3.50" height="3.50" fill="#8fd68f"/><rect x="41.40" y="20.70" width="3.50" height="3.50" fill="#8fd68f"/><rect x="44.85" y="20.70" width="3.50" height="3.50" fill="#8fd68f"/><rect x="0.00" y="24.15" width="3.50" height="3.50" fill="#b0b0b0"/><rect x="3.45" y="24.15" width="3.50" height="3.50" fill="#b0b0b0"/><rect x="6.90" y="24.15" width="3.50" height="3.50" fill="#ec6f6f"/><rect x="10.35" y="24.15" width="3.50" height="3.50" fill="#ec6f6f"/><rect x="13.80" y="24.15" width="3.50" height="3.50" fill="#b0b0b0"/><rect x="17.25" y="24.15" width="3.50" height="3.50" fill="#b0b0b0"/><rect x="20.70" y="24.15" width="3.50" height="3.50" fill="#b0b0b0"/><rect x="24.15" y="24.15" width="3.50" height="3.50" fill="#b0b0b0"/><rect x="27.60" y="24.15" width="3.50" height="3.50" fill="#8fd68f"/><rect x="31.05" y="24.15" width="3.50" height="3.50" fill="#8fd68f"/><rect x="34.50" y="24.15" width="3.50" height="3.50" fill="#8fd68f"/><rect x="37.95" y="24.15" width="3.50" height="3.50" fill="#8fd68f"/><rect x="41.40" y="24.15" width="3.50" height="3.50" fill="#8fd68f"/><rect x="44.85" y="24.15" width="3.50" height="3.50" fill="#8fd68f"/><rect x="0.00" y="27.60" width="3.50" height="3.50" fill="#ec6f6f"/><rect x="3.45" y="27.60" width="3.50" height="3.50" fill="#ec6f6f"/><rect x="6.90" y="27.60" width="3.50" height="3.50" fill="#ec6f6f"/><rect x="10.35" y="27.60" width="3.50" height="3.50" fill="#ec6f6f"/><rect x="13.80" y="27.60" width="3.50" height="3.50" fill="#b0b0b0"/><rect x="17.25" y="27.60" width="3.50" height="3.50" fill="#b0b0b0"/><rect x="20.70" y="27.60" width="3.50" height="3.50" fill="#b0b0b0"/><rect x="24.15" y="27.60" width="3.50" height="3.50" fill="#b0b0b0"/><rect x="27.60" y="27.60" width="3.50" height="3.50" fill="#b0b0b0"/><rect x="31.05" y="27.60" width="3.50" height="3.50" fill="#8fd68f"/><rect x="34.50" y="27.60" width="3.50" height="3.50" fill="#8fd68f"/><rect x="37.95" y="27.60" width="3.50" height="3.50" fill="#8fd68f"/><rect x="41.40" y="27.60" width="3.50" height="3.50" fill="#b0b0b0"/><rect x="44.85" y="27.60" width="3.50" height="3.50" fill="#b0b0b0"/><rect x="0.00" y="31.05" width="3.50" height="3.50" fill="#ec6f6f"/><rect x="3.45" y="31.05" width="3.50" height="3.50" fill="#ec6f6f"/><rect x="6.90" y="31.05" width="3.50" height="3.50" fill="#ec6f6f"/><rect x="10.35" y="31.05" width="3.50" height="3.50" fill="#b0b0b0"/><rect x="13.80" y="31.05" width="3.50" height="3.50" fill="#b0b0b0"/><rect x="17.25" y="31.05" width="3.50" height="3.50" fill="#b0b0b0"/><rect x="20.70" y="31.05" width="3.50" height="3.50" fill="#b0b0b0"/><rect x="24.15" y="31.05" width="3.50" height="3.50" fill="#b0b0b0"/><rect x="27.60" y="31.05" width="3.50" height="3.50" fill="#b0b0b0"/><rect x="31.05" y="31.05" width="3.50" height="3.50" fill="#b0b0b0"/><rect x="34.50" y="31.05" width="3.50" height="3.50" fill="#b0b0b0"/><rect x="37.95" y="31.05" width="3.50" height="3.50" fill="#b0b0b0"/><rect x="41.40" y="31.05" width="3.50" height="3.50" fill="#b0b0b0"/><rect x="44.85" y="31.05" width="3.50" height="3.50" fill="#b0b0b0"/><rect x="0.00" y="34.50" width="3.50" height="3.50" fill="#ec6f6f"/><rect x="3.45" y="34.50" width="3.50" height="3.50" fill="#ec6f6f"/><rect x="6.90" y="34.50" width="3.50" height="3.50" fill="#ec6f6f"/><rect x="10.35" y="34.50" width="3.50" height="3.50" fill="#b0b0b0"/><rect x="13.80" y="34.50" width="3.50" height="3.50" fill="#b0b0b0"/><rect x="17.25" y="34.50" width="3.50" height="3.50" fill="#b0b0b0"/><rect x="20.70" y="34.50" width="3.50" height="3.50" fill="#b0b0b0"/><rect x="24.15" y="34.50" width="3.50" height="3.50" fill="#b0b0b0"/><rect x="27.60" y="34.50" width="3.50" height="3.50" fill="#b0b0b0"/><rect x="31.05" y="34.50" width="3.50" height="3.50" fill="#b0b0b0"/><rect x="34.50" y="34.50" width="3.50" height="3.50" fill="#b0b0b0"/><rect x="37.95" y="34.50" width="3.50" height="3.50" fill="#b0b0b0"/><rect x="41.40" y="34.50" width="3.50" height="3.50" fill="#b0b0b0"/><rect x="44.85" y="34.50" width="3.50" height="3.50" fill="#b0b0b0"/><rect x="0.00" y="37.95" width="3.50" height="3.50" fill="#ec6f6f"/><rect x="3.45" y="37.95" width="3.50" height="3.50" fill="#ec6f6f"/><rect x="6.90" y="37.95" width="3.50" height="3.50" fill="#ec6f6f"/><rect x="10.35" y="37.95" width="3.50" height="3.50" fill="#ec6f6f"/><rect x="13.80" y="37.95" width="3.50" height="3.50" fill="#ec6f6f"/><rect x="17.25" y="37.95" width="3.50" height="3.50" fill="#ec6f6f"/><rect x="20.70" y="37.95" width="3.50" height="3.50" fill="#ec6f6f"/><rect x="24.15" y="37.95" width="3.50" height="3.50" fill="#b0b0b0"/><rect x="27.60" y="37.95" width="3.50" height="3.50" fill="#b0b0b0"/><rect x="31.05" y="37.95" width="3.50" height="3.50" fill="#b0b0b0"/><rect x="34.50" y="37.95" width="3.50" height="3.50" fill="#b0b0b0"/><rect x="37.95" y="37.95" width="3.50" height="3.50" fill="#b0b0b0"/><rect x="41.40" y="37.95" width="3.50" height="3.50" fill="#b0b0b0"/><rect x="44.85" y="37.95" width="3.50" height="3.50" fill="#b0b0b0"/><circle cx="5.18" cy="5.18" r="1.55" fill="#111"/><circle cx="22.43" cy="8.62" r="1.55" fill="#111"/><circle cx="12.08" cy="12.08" r="1.55" fill="#111"/><circle cx="1.73" cy="15.53" r="1.55" fill="#111"/><circle cx="36.23" cy="15.53" r="1.55" fill="#111"/><circle cx="18.98" cy="18.98" r="1.55" fill="#111"/><circle cx="22.43" cy="18.98" r="1.55" fill="#111"/><circle cx="39.68" cy="18.98" r="1.55" fill="#111"/><circle cx="12.08" cy="22.43" r="1.55" fill="#111"/><circle cx="25.88" cy="22.43" r="1.55" fill="#111"/><circle cx="29.33" cy="25.88" r="1.55" fill="#111"/><circle cx="12.08" cy="32.77" r="1.55" fill="#111"/><circle cx="46.58" cy="32.77" r="1.55" fill="#111"/><circle cx="1.73" cy="39.68" r="1.55" fill="#111"/><circle cx="12.08" cy="39.68" r="1.55" fill="#111"/><circle cx="15.53" cy="39.68" r="1.55" fill="#111"/><circle cx="18.98" cy="39.68" r="1.55" fill="#111"/><circle cx="46.58" cy="39.68" r="1.55" fill="#111"/>
</g>
<g transform="matrix(1,0.37,0,1,281.4,130.2)">
<rect x="0.00" y="0.00" width="3.51" height="3.51" fill="#f2d13c"/><rect x="3.46" y="0.00" width="3.51" height="3.51" fill="#f2d13c"/><rect x="6.92" y="0.00" width="3.51" height="3.51" fill="#a9a9a3"/><rect x="10.38" y="0.00" width="3.51" height="3.51" fill="#e58f8f"/><rect x="13.84" y="0.00" width="3.51" height="3.51" fill="#a9a9a3"/><rect x="17.30" y="0.00" width="3.51" height="3.51" fill="#eeb4b4"/><rect x="20.76" y="0.00" width="3.51" height="3.51" fill="#eeb4b4"/><rect x="27.68" y="0.00" width="3.51" height="3.51" fill="#eeb4b4"/><rect x="31.14" y="0.00" width="3.51" height="3.51" fill="#eeb4b4"/><rect x="34.60" y="0.00" width="3.51" height="3.51" fill="#a9a9a3"/><rect x="38.06" y="0.00" width="3.51" height="3.51" fill="#a9a9a3"/><rect x="41.52" y="0.00" width="3.51" height="3.51" fill="#a9a9a3"/><rect x="44.98" y="0.00" width="3.51" height="3.51" fill="#a9a9a3"/><rect x="48.44" y="0.00" width="3.51" height="3.51" fill="#a9a9a3"/><rect x="0.00" y="3.46" width="3.51" height="3.51" fill="#f2d13c"/><rect x="3.46" y="3.46" width="3.51" height="3.51" fill="#f2d13c"/><rect x="6.92" y="3.46" width="3.51" height="3.51" fill="#a9a9a3"/><rect x="10.38" y="3.46" width="3.51" height="3.51" fill="#a9a9a3"/><rect x="13.84" y="3.46" width="3.51" height="3.51" fill="#a9a9a3"/><rect x="17.30" y="3.46" width="3.51" height="3.51" fill="#eeb4b4"/><rect x="20.76" y="3.46" width="3.51" height="3.51" fill="#eeb4b4"/><rect x="27.68" y="3.46" width="3.51" height="3.51" fill="#eeb4b4"/><rect x="31.14" y="3.46" width="3.51" height="3.51" fill="#eeb4b4"/><rect x="34.60" y="3.46" width="3.51" height="3.51" fill="#e58f8f"/><rect x="38.06" y="3.46" width="3.51" height="3.51" fill="#e58f8f"/><rect x="41.52" y="3.46" width="3.51" height="3.51" fill="#a9a9a3"/><rect x="44.98" y="3.46" width="3.51" height="3.51" fill="#a9a9a3"/><rect x="48.44" y="3.46" width="3.51" height="3.51" fill="#a9a9a3"/><rect x="0.00" y="6.92" width="3.51" height="3.51" fill="#e87272"/><rect x="3.46" y="6.92" width="3.51" height="3.51" fill="#e58f8f"/><rect x="6.92" y="6.92" width="3.51" height="3.51" fill="#a9a9a3"/><rect x="10.38" y="6.92" width="3.51" height="3.51" fill="#e58f8f"/><rect x="13.84" y="6.92" width="3.51" height="3.51" fill="#a9a9a3"/><rect x="17.30" y="6.92" width="3.51" height="3.51" fill="#e58f8f"/><rect x="20.76" y="6.92" width="3.51" height="3.51" fill="#a9a9a3"/><rect x="27.68" y="6.92" width="3.51" height="3.51" fill="#a9a9a3"/><rect x="31.14" y="6.92" width="3.51" height="3.51" fill="#a9a9a3"/><rect x="34.60" y="6.92" width="3.51" height="3.51" fill="#e58f8f"/><rect x="38.06" y="6.92" width="3.51" height="3.51" fill="#e58f8f"/><rect x="41.52" y="6.92" width="3.51" height="3.51" fill="#eeb4b4"/><rect x="44.98" y="6.92" width="3.51" height="3.51" fill="#eeb4b4"/><rect x="48.44" y="6.92" width="3.51" height="3.51" fill="#a9a9a3"/><rect x="0.00" y="10.38" width="3.51" height="3.51" fill="#f2d13c"/><rect x="3.46" y="10.38" width="3.51" height="3.51" fill="#a9a9a3"/><rect x="6.92" y="10.38" width="3.51" height="3.51" fill="#a9a9a3"/><rect x="10.38" y="10.38" width="3.51" height="3.51" fill="#a9a9a3"/><rect x="13.84" y="10.38" width="3.51" height="3.51" fill="#a9a9a3"/><rect x="17.30" y="10.38" width="3.51" height="3.51" fill="#e58f8f"/><rect x="20.76" y="10.38" width="3.51" height="3.51" fill="#ffffff"/><rect x="27.68" y="10.38" width="3.51" height="3.51" fill="#a9a9a3"/><rect x="31.14" y="10.38" width="3.51" height="3.51" fill="#a9a9a3"/><rect x="34.60" y="10.38" width="3.51" height="3.51" fill="#e58f8f"/><rect x="38.06" y="10.38" width="3.51" height="3.51" fill="#e87272"/><rect x="41.52" y="10.38" width="3.51" height="3.51" fill="#8fd08f"/><rect x="44.98" y="10.38" width="3.51" height="3.51" fill="#a9a9a3"/><rect x="48.44" y="10.38" width="3.51" height="3.51" fill="#eeb4b4"/><rect x="0.00" y="13.84" width="3.51" height="3.51" fill="#e58f8f"/><rect x="3.46" y="13.84" width="3.51" height="3.51" fill="#a9a9a3"/><rect x="6.92" y="13.84" width="3.51" height="3.51" fill="#eeb4b4"/><rect x="10.38" y="13.84" width="3.51" height="3.51" fill="#eeb4b4"/><rect x="13.84" y="13.84" width="3.51" height="3.51" fill="#a9a9a3"/><rect x="17.30" y="13.84" width="3.51" height="3.51" fill="#e87272"/><rect x="20.76" y="13.84" width="3.51" height="3.51" fill="#8fd08f"/><rect x="27.68" y="13.84" width="3.51" height="3.51" fill="#a9a9a3"/><rect x="31.14" y="13.84" width="3.51" height="3.51" fill="#eeb4b4"/><rect x="34.60" y="13.84" width="3.51" height="3.51" fill="#eeb4b4"/><rect x="38.06" y="13.84" width="3.51" height="3.51" fill="#eeb4b4"/><rect x="41.52" y="13.84" width="3.51" height="3.51" fill="#eeb4b4"/><rect x="44.98" y="13.84" width="3.51" height="3.51" fill="#eeb4b4"/><rect x="48.44" y="13.84" width="3.51" height="3.51" fill="#a9a9a3"/><rect x="0.00" y="17.30" width="3.51" height="3.51" fill="#e87272"/><rect x="3.46" y="17.30" width="3.51" height="3.51" fill="#a9a9a3"/><rect x="6.92" y="17.30" width="3.51" height="3.51" fill="#a9a9a3"/><rect x="10.38" y="17.30" width="3.51" height="3.51" fill="#eeb4b4"/><rect x="13.84" y="17.30" width="3.51" height="3.51" fill="#eeb4b4"/><rect x="17.30" y="17.30" width="3.51" height="3.51" fill="#8fd08f"/><rect x="20.76" y="17.30" width="3.51" height="3.51" fill="#eeb4b4"/><rect x="27.68" y="17.30" width="3.51" height="3.51" fill="#eeb4b4"/><rect x="31.14" y="17.30" width="3.51" height="3.51" fill="#f2d13c"/><rect x="34.60" y="17.30" width="3.51" height="3.51" fill="#eeb4b4"/><rect x="38.06" y="17.30" width="3.51" height="3.51" fill="#eeb4b4"/><rect x="41.52" y="17.30" width="3.51" height="3.51" fill="#eeb4b4"/><rect x="44.98" y="17.30" width="3.51" height="3.51" fill="#ffffff"/><rect x="48.44" y="17.30" width="3.51" height="3.51" fill="#a9a9a3"/><rect x="0.00" y="20.76" width="3.51" height="3.51" fill="#e58f8f"/><rect x="3.46" y="20.76" width="3.51" height="3.51" fill="#8fd08f"/><rect x="6.92" y="20.76" width="3.51" height="3.51" fill="#e87272"/><rect x="10.38" y="20.76" width="3.51" height="3.51" fill="#a9a9a3"/><rect x="13.84" y="20.76" width="3.51" height="3.51" fill="#eeb4b4"/><rect x="17.30" y="20.76" width="3.51" height="3.51" fill="#eeb4b4"/><rect x="20.76" y="20.76" width="3.51" height="3.51" fill="#eeb4b4"/><rect x="27.68" y="20.76" width="3.51" height="3.51" fill="#eeb4b4"/><rect x="31.14" y="20.76" width="3.51" height="3.51" fill="#ffffff"/><rect x="34.60" y="20.76" width="3.51" height="3.51" fill="#eeb4b4"/><rect x="38.06" y="20.76" width="3.51" height="3.51" fill="#8fd08f"/><rect x="41.52" y="20.76" width="3.51" height="3.51" fill="#eeb4b4"/><rect x="44.98" y="20.76" width="3.51" height="3.51" fill="#eeb4b4"/><rect x="48.44" y="20.76" width="3.51" height="3.51" fill="#e58f8f"/><rect x="0.00" y="24.22" width="3.51" height="3.51" fill="#e58f8f"/><rect x="44.98" y="24.22" width="3.51" height="3.51" fill="#eeb4b4"/><rect x="48.44" y="24.22" width="3.51" height="3.51" fill="#8fd08f"/><rect x="0.00" y="27.68" width="3.51" height="3.51" fill="#a9a9a3"/><rect x="3.46" y="27.68" width="3.51" height="3.51" fill="#e58f8f"/><rect x="6.92" y="27.68" width="3.51" height="3.51" fill="#e87272"/><rect x="10.38" y="27.68" width="3.51" height="3.51" fill="#f2d13c"/><rect x="13.84" y="27.68" width="3.51" height="3.51" fill="#eeb4b4"/><rect x="17.30" y="27.68" width="3.51" height="3.51" fill="#eeb4b4"/><rect x="20.76" y="27.68" width="3.51" height="3.51" fill="#eeb4b4"/><rect x="24.22" y="27.68" width="3.51" height="3.51" fill="#eeb4b4"/><rect x="27.68" y="27.68" width="3.51" height="3.51" fill="#f2d13c"/><rect x="31.14" y="27.68" width="3.51" height="3.51" fill="#f2d13c"/><rect x="34.60" y="27.68" width="3.51" height="3.51" fill="#a9a9a3"/><rect x="38.06" y="27.68" width="3.51" height="3.51" fill="#eeb4b4"/><rect x="41.52" y="27.68" width="3.51" height="3.51" fill="#eeb4b4"/><rect x="44.98" y="27.68" width="3.51" height="3.51" fill="#ffffff"/><rect x="48.44" y="27.68" width="3.51" height="3.51" fill="#a9a9a3"/><rect x="0.00" y="31.14" width="3.51" height="3.51" fill="#e58f8f"/><rect x="3.46" y="31.14" width="3.51" height="3.51" fill="#e58f8f"/><rect x="6.92" y="31.14" width="3.51" height="3.51" fill="#e87272"/><rect x="10.38" y="31.14" width="3.51" height="3.51" fill="#f2d13c"/><rect x="13.84" y="31.14" width="3.51" height="3.51" fill="#a9a9a3"/><rect x="17.30" y="31.14" width="3.51" height="3.51" fill="#a9a9a3"/><rect x="20.76" y="31.14" width="3.51" height="3.51" fill="#a9a9a3"/><rect x="24.22" y="31.14" width="3.51" height="3.51" fill="#a9a9a3"/><rect x="27.68" y="31.14" width="3.51" height="3.51" fill="#f2d13c"/><rect x="31.14" y="31.14" width="3.51" height="3.51" fill="#f2d13c"/><rect x="34.60" y="31.14" width="3.51" height="3.51" fill="#f2d13c"/><rect x="38.06" y="31.14" width="3.51" height="3.51" fill="#ffffff"/><rect x="41.52" y="31.14" width="3.51" height="3.51" fill="#eeb4b4"/><rect x="44.98" y="31.14" width="3.51" height="3.51" fill="#a9a9a3"/><rect x="48.44" y="31.14" width="3.51" height="3.51" fill="#e87272"/><rect x="0.00" y="34.60" width="3.51" height="3.51" fill="#e58f8f"/><rect x="3.46" y="34.60" width="3.51" height="3.51" fill="#a9a9a3"/><rect x="6.92" y="34.60" width="3.51" height="3.51" fill="#a9a9a3"/><rect x="10.38" y="34.60" width="3.51" height="3.51" fill="#e58f8f"/><rect x="13.84" y="34.60" width="3.51" height="3.51" fill="#a9a9a3"/><rect x="17.30" y="34.60" width="3.51" height="3.51" fill="#e58f8f"/><rect x="20.76" y="34.60" width="3.51" height="3.51" fill="#a9a9a3"/><rect x="24.22" y="34.60" width="3.51" height="3.51" fill="#8fd08f"/><rect x="27.68" y="34.60" width="3.51" height="3.51" fill="#e58f8f"/><rect x="31.14" y="34.60" width="3.51" height="3.51" fill="#a9a9a3"/><rect x="34.60" y="34.60" width="3.51" height="3.51" fill="#a9a9a3"/><rect x="38.06" y="34.60" width="3.51" height="3.51" fill="#e58f8f"/><rect x="41.52" y="34.60" width="3.51" height="3.51" fill="#ffffff"/><rect x="44.98" y="34.60" width="3.51" height="3.51" fill="#a9a9a3"/><rect x="48.44" y="34.60" width="3.51" height="3.51" fill="#a9a9a3"/><rect x="0.00" y="38.06" width="3.51" height="3.51" fill="#8fd08f"/><rect x="3.46" y="38.06" width="3.51" height="3.51" fill="#ffffff"/><rect x="6.92" y="38.06" width="3.51" height="3.51" fill="#e58f8f"/><rect x="10.38" y="38.06" width="3.51" height="3.51" fill="#a9a9a3"/><rect x="13.84" y="38.06" width="3.51" height="3.51" fill="#ffffff"/><rect x="17.30" y="38.06" width="3.51" height="3.51" fill="#f2d13c"/><rect x="20.76" y="38.06" width="3.51" height="3.51" fill="#f2d13c"/><rect x="34.60" y="38.06" width="3.51" height="3.51" fill="#a9a9a3"/><rect x="38.06" y="38.06" width="3.51" height="3.51" fill="#e58f8f"/><rect x="41.52" y="38.06" width="3.51" height="3.51" fill="#a9a9a3"/><rect x="44.98" y="38.06" width="3.51" height="3.51" fill="#a9a9a3"/><rect x="48.44" y="38.06" width="3.51" height="3.51" fill="#eeb4b4"/><rect x="0.00" y="41.52" width="3.51" height="3.51" fill="#e58f8f"/><rect x="3.46" y="41.52" width="3.51" height="3.51" fill="#e58f8f"/><rect x="6.92" y="41.52" width="3.51" height="3.51" fill="#e58f8f"/><rect x="10.38" y="41.52" width="3.51" height="3.51" fill="#e87272"/><rect x="13.84" y="41.52" width="3.51" height="3.51" fill="#eeb4b4"/><rect x="17.30" y="41.52" width="3.51" height="3.51" fill="#f2d13c"/><rect x="20.76" y="41.52" width="3.51" height="3.51" fill="#f2d13c"/><rect x="34.60" y="41.52" width="3.51" height="3.51" fill="#e58f8f"/><rect x="38.06" y="41.52" width="3.51" height="3.51" fill="#8fd08f"/><rect x="41.52" y="41.52" width="3.51" height="3.51" fill="#a9a9a3"/><rect x="44.98" y="41.52" width="3.51" height="3.51" fill="#a9a9a3"/><rect x="48.44" y="41.52" width="3.51" height="3.51" fill="#e58f8f"/><rect x="0.00" y="44.98" width="3.51" height="3.51" fill="#e58f8f"/><rect x="3.46" y="44.98" width="3.51" height="3.51" fill="#e58f8f"/><rect x="6.92" y="44.98" width="3.51" height="3.51" fill="#e58f8f"/><rect x="10.38" y="44.98" width="3.51" height="3.51" fill="#eeb4b4"/><rect x="13.84" y="44.98" width="3.51" height="3.51" fill="#eeb4b4"/><rect x="17.30" y="44.98" width="3.51" height="3.51" fill="#8fd08f"/><rect x="20.76" y="44.98" width="3.51" height="3.51" fill="#f2d13c"/><rect x="34.60" y="44.98" width="3.51" height="3.51" fill="#a9a9a3"/><rect x="38.06" y="44.98" width="3.51" height="3.51" fill="#a9a9a3"/><rect x="41.52" y="44.98" width="3.51" height="3.51" fill="#e58f8f"/><rect x="44.98" y="44.98" width="3.51" height="3.51" fill="#e58f8f"/><rect x="48.44" y="44.98" width="3.51" height="3.51" fill="#a9a9a3"/><circle cx="5.19" cy="12.11" r="1.56" fill="#111"/><circle cx="32.87" cy="15.57" r="1.56" fill="#111"/><circle cx="43.25" cy="15.57" r="1.56" fill="#111"/><circle cx="22.49" cy="19.03" r="1.56" fill="#111"/><circle cx="32.87" cy="19.03" r="1.56" fill="#111"/><circle cx="39.79" cy="22.49" r="1.56" fill="#111"/><circle cx="32.87" cy="29.41" r="1.56" fill="#111"/><circle cx="36.33" cy="32.87" r="1.56" fill="#111"/><circle cx="1.73" cy="36.33" r="1.56" fill="#111"/><circle cx="12.11" cy="36.33" r="1.56" fill="#111"/><circle cx="50.17" cy="36.33" r="1.56" fill="#111"/><circle cx="1.73" cy="46.71" r="1.56" fill="#111"/>
</g>
<text x="311.2" y="199.9" font-size="11" text-anchor="middle" fill="#222" font-style="normal" transform="matrix(1,0.27,0,1,0,-84.02)">Tamper</text>
<line x1="340" y1="161.7" x2="411.4" y2="186.0" stroke="#111" stroke-width="1.6"/>
<polygon points="418,188.3 410.2,189.4 412.5,182.7" fill="#111"/>
<text x="375.4" y="184.9" font-size="11" text-anchor="middle" fill="#222" font-style="italic" transform="matrix(1,0.3,0,1,0,-112.62)">K(t<tspan font-size="7" dy="2">1</tspan><tspan dy="-2">)</tspan></text>
<g transform="matrix(0.59,0.157,0,0.59,422.7,166.5)">
<rect x="0" y="0" width="80" height="70" fill="url(#grid)"/>
<path d="M4,42 C8,56 24,64 40,64 C56,64 72,58 76,42 C68,48 56,50 42,50 C26,50 14,46 9,37 Z" fill="#6fd36f"/><path d="M40,4 L9,37 C16,46 28,50 42,50 C56,50 66,46 73,39 Z" fill="#f07070"/><path d="M38,6 L46,7 L50,49 L38,49 Z" fill="#f3d020"/><path d="M9,37 L40,4 L73,39" fill="none" stroke="#111" stroke-width="3" stroke-dasharray="2.6 1.2"/><path d="M4,42 C8,56 24,64 40,64 C56,64 72,58 76,42" fill="none" stroke="#111" stroke-width="3" stroke-dasharray="2.6 1.2"/><path d="M9,37 C16,46 28,50 42,50 C56,50 66,46 73,39" fill="none" stroke="#111" stroke-width="2.4" stroke-dasharray="2.6 1.4"/><path d="M38,6 L38,49 M46,7 L50,49" fill="none" stroke="#111" stroke-width="2.4" stroke-dasharray="2.4 1.4"/><circle cx="40" cy="16" r="1.8" fill="#111"/><circle cx="32" cy="24" r="1.8" fill="#111"/><circle cx="46" cy="22" r="1.8" fill="#111"/><circle cx="24" cy="31" r="1.8" fill="#111"/><circle cx="38" cy="33" r="1.8" fill="#111"/><circle cx="52" cy="30" r="1.8" fill="#111"/><circle cx="30" cy="42" r="1.8" fill="#111"/><circle cx="48" cy="42" r="1.8" fill="#111"/><circle cx="60" cy="36" r="1.8" fill="#111"/>
</g>
<circle cx="424" cy="166.5" r="6.5" fill="none" stroke="#111" stroke-width="1.6"/>
<polyline points="430.5,168 533.5,192 533.5,203" fill="none" stroke="#111" stroke-width="1.8"/>
<polygon points="533.5,210 529.5,202 537.5,202" fill="#111"/>
<line x1="471.7" y1="206" x2="482.7" y2="208.1" stroke="#111" stroke-width="1.5"/>
<polygon points="487.6,209 482.1,211.0 483.2,205.1" fill="#111"/>
<circle cx="493" cy="210" r="4.6" fill="#aaa"/>
<circle cx="502.5" cy="212" r="4.6" fill="#f07070"/>
<circle cx="494" cy="219.5" r="4.6" fill="#5cc45c"/>
<circle cx="503.5" cy="221.5" r="4.6" fill="#f3d020"/>
<circle cx="529" cy="220" r="4.6" fill="#aaa"/>
<circle cx="538.5" cy="222.5" r="4.6" fill="#f07070"/>
<circle cx="529" cy="230" r="4.6" fill="#111"/>
<circle cx="538.5" cy="232.5" r="4.6" fill="#5cc45c"/>
<text x="514.5" y="224.5" font-size="18" text-anchor="middle" fill="#222" font-weight="normal" font-style="normal">≠</text>
<text x="475.8" y="234.7" font-size="11" text-anchor="middle" fill="#222" font-style="normal" transform="matrix(1,0.25,0,1,0,-118.95)">Message authentication</text>
<text x="16.5" y="284.5" font-size="14" text-anchor="middle" fill="#111" font-weight="bold" font-style="normal">B</text>
<polygon points="177,272 263,317 263,437 177,392" fill="#0b0b0b"/>
<text x="238.5" y="292" font-size="14" text-anchor="middle" fill="#222" font-weight="normal" font-style="normal">Screen</text>
<text x="144.5" y="306.5" font-size="14" text-anchor="middle" fill="#222" font-weight="normal" font-style="normal">Rotation</text>
<text x="93.5" y="356" font-size="14" text-anchor="middle" fill="#222" font-weight="normal" font-style="normal">Translation</text>
<text x="62" y="474" font-size="14" text-anchor="middle" fill="#222" font-weight="normal" font-style="normal">Laser source</text>
<text x="216" y="444.5" font-size="14" text-anchor="middle" fill="#222" font-weight="normal" font-style="normal">Grating B</text>
<text x="163.4" y="468" font-size="14" text-anchor="middle" fill="#222" font-weight="normal" font-style="normal">Grating A</text>
<line x1="160" y1="350" x2="190" y2="314" stroke="#a6cfa6" stroke-width="1.5"/>
<line x1="178" y1="347.5" x2="191" y2="337" stroke="#a6cfa6" stroke-width="1.5"/>
<line x1="178" y1="365" x2="219.3" y2="331.7" stroke="#a6d8a6" stroke-width="1.6"/>
<line x1="178" y1="374" x2="221" y2="352.8" stroke="#86e086" stroke-width="2.4"/>
<line x1="180" y1="361.6" x2="191" y2="360" stroke="#a6cfa6" stroke-width="1.4"/>
<line x1="178" y1="384.5" x2="248.3" y2="346.7" stroke="#a6c8a6" stroke-width="1.5"/>
<line x1="178" y1="381" x2="221" y2="374.8" stroke="#a6d8a6" stroke-width="1.6"/>
<line x1="178" y1="389.8" x2="249" y2="369.5" stroke="#a6cfa6" stroke-width="1.6"/>
<line x1="178" y1="392.4" x2="249" y2="392.4" stroke="#a6c0a6" stroke-width="1.5"/>
<polygon points="132,331 137,327 179,346 176,351" fill="#050808"/>
<polygon points="176,351 179,347 179,440 176,443" fill="#060a0a"/>
<g transform="matrix(1,0.4773,0,1,132,331)"><rect x="0" y="0" width="44" height="91" fill="url(#slotsB)"/></g>
<line x1="104" y1="412" x2="157" y2="384" stroke="#72e872" stroke-width="3.2" opacity="0.95"/>
<line x1="109" y1="403" x2="139" y2="380" stroke="#72e872" stroke-width="1.6" opacity="0.9"/>
<line x1="128" y1="404" x2="173" y2="393" stroke="#72e872" stroke-width="2.2" opacity="0.9"/>
<line x1="115" y1="405" x2="178" y2="392" stroke="#72e872" stroke-width="2.0" opacity="0.9"/>
<line x1="120" y1="398" x2="176" y2="372" stroke="#72e872" stroke-width="1.5" opacity="0.8"/>
<polygon points="58,372 62,369 128,399.5 124,402.5" fill="#cde3d7"/>
<polygon points="124,402.5 128,399.5 128,458 124,460" fill="#98baa9"/>
<g transform="matrix(1,0.4529,0,1,58,372)"><rect x="0" y="0" width="66" height="58" fill="url(#slotsA)"/></g>
<line x1="52" y1="433" x2="102" y2="411" stroke="#66e666" stroke-width="6" opacity="0.9"/>
<g transform="translate(-2.5,2.5)">
<polygon points="22.8,437.1 50.8,422.1 59.2,437.9 31.2,452.9" fill="#0a0a0a"/>
<ellipse cx="55" cy="430" rx="4.5" ry="9" transform="rotate(-28 55 430)" fill="#0a0a0a"/>
<ellipse cx="27" cy="445" rx="5.5" ry="9" transform="rotate(-28 27 445)" fill="#000"/>
<ellipse cx="27.5" cy="444.7" rx="4.5" ry="8" transform="rotate(-28 27.5 444.7)" fill="none" stroke="#222" stroke-width="0.8"/>
</g>
<path d="M96,362 L117,375 L106,386" fill="none" stroke="#668f93" stroke-width="2.4"/>
<path d="M163.2,332.9 A8,9.3 0 1 1 166.9,326.6" fill="none" stroke="#5f8a86" stroke-width="2.3" stroke-linecap="round"/>
<text x="288.5" y="285.5" font-size="14" text-anchor="middle" fill="#111" font-weight="bold" font-style="normal">C</text>
<clipPath id="cc"><ellipse cx="357.3" cy="342" rx="69.3" ry="65"/></clipPath>
<g clip-path="url(#cc)">
<rect x="285" y="275" width="145" height="135" fill="#a7a7a7"/>
<rect x="285" y="275" width="29.69999999999999" height="135" fill="url(#stripes)"/>
<rect x="345.5" y="275" width="31.5" height="135" fill="url(#stripes)"/>
<rect x="406.7" y="275" width="23.30000000000001" height="135" fill="url(#stripes)"/>
</g>
<path d="M503,287 Q503,285 505,286 L545,304 Q547,305 547,307 L545,389 Q545,391 543,390 L505,372 Q503,371 503,369 Z" fill="#1d2120" stroke="#3a3d3c" stroke-width="1"/>
<ellipse cx="521" cy="343" rx="10" ry="11" fill="#138f13" filter="url(#b4)"/>
<ellipse cx="521" cy="342.5" rx="6" ry="6" fill="#22c522" filter="url(#b2)"/>
<ellipse cx="520" cy="343.5" rx="4" ry="1.8" transform="rotate(25 520 343.5)" fill="#8f8" filter="url(#b1)"/>
<text x="533.5" y="281" font-size="14" text-anchor="middle" fill="#222" font-weight="normal" font-style="normal">Record screen</text>
<text x="453" y="332" font-size="14" text-anchor="middle" fill="#222" font-weight="normal" font-style="normal">Gratings</text>
<text x="359" y="487.5" font-size="14" text-anchor="middle" fill="#222" font-weight="normal" font-style="normal">Laser source</text>
<text x="471.5" y="471" font-size="14" text-anchor="middle" fill="#222" font-weight="normal" font-style="normal">Dynamic</text>
<text x="472" y="487.5" font-size="14" text-anchor="middle" fill="#222" font-weight="normal" font-style="normal">encryptor</text>
<polygon points="382,411 470,370 530,392 530,412 412,462 382,452" fill="#1b1b1b"/>
<polygon points="382,411 470,370 476,373 388,414" fill="#2e2e2e"/>
<polygon points="404,407 446,390 456,402 412,424" fill="#d6cfbf"/>
<polygon points="421,426 470,405 479,416 429,438" fill="#d6cfbf"/>
<polygon points="412,424 456,402 460,406 416,428" fill="#111"/>
<polygon points="432,372 440,366 458,373 458,412 450,416 432,409" fill="#cfc6b1"/>
<polygon points="450,377 458,373 458,412 450,416" fill="#aea590"/>
<polygon points="460,358 467,352 479,357 479,416 471,420 460,414" fill="#c8bfaa"/>
<polygon points="471,361 479,357 479,416 471,420" fill="#a8a08b"/>
<polygon points="478,354 500,349 528,361 528,413 505,421 480,410" fill="#161616"/>
<polygon points="502,358 528,368 528,412 505,419" fill="#242424"/>
<polygon points="474,342 481,336 508,347 509,362 499,357 476,352" fill="#a9a398"/>
<polygon points="479,345 494,349 495,357 480,353" fill="#c49a7a"/>
<polygon points="501,378 514,383 514,392 501,387" fill="#5b6a55"/>
<polygon points="356,454 394,430 422,445 422,458 376,476 356,469" fill="#141414"/>
<polygon points="356,454 376,464 376,476 356,469" fill="#2a2a2a"/>
<ellipse cx="362" cy="463" rx="4" ry="6" fill="#555"/>
<line x1="324" y1="462" x2="382" y2="428" stroke="#121212" stroke-width="11" stroke-linecap="round"/>
<line x1="382" y1="428" x2="394" y2="421" stroke="#cfd7a0" stroke-width="10"/>
<line x1="386" y1="426" x2="390" y2="423.5" stroke="#e8e8c8" stroke-width="10"/>
<path d="M316,416 L326,410 L334,414 L343,420 L350,430 L345,440 L338,436 L332,424 L318,420 Z" fill="#bdbdbd"/>
<path d="M356,425 C362,420 378,422 384,436 C382,446 372,452 360,448" fill="none" stroke="#e36d3a" stroke-width="4.5"/>
<path d="M348,432 C354,440 362,446 366,452" fill="none" stroke="#e36d3a" stroke-width="4"/>
<circle cx="474.7" cy="369" r="11" fill="#3f6f4f" opacity="0.8"/>
<circle cx="454.7" cy="383.3" r="7" fill="#2fbf4f" opacity="0.55" filter="url(#b2)"/>
<circle cx="454.7" cy="383.3" r="8" fill="none" stroke="#86d9ae" stroke-width="1.5"/>
<circle cx="454.7" cy="383.3" r="4.5" fill="#3fe06f" filter="url(#b1)"/>
<circle cx="454.7" cy="383.3" r="1.8" fill="#bfffcf"/>
<circle cx="474.7" cy="371.3" r="8" fill="#2fbf4f" opacity="0.55" filter="url(#b2)"/>
<circle cx="474.7" cy="371.3" r="9" fill="none" stroke="#86d9ae" stroke-width="1.5"/>
<circle cx="474.7" cy="371.3" r="4.5" fill="#3fe06f" filter="url(#b1)"/>
<circle cx="474.7" cy="371.3" r="1.8" fill="#bfffcf"/>
<polyline points="450,378 436,362 470,367" fill="none" stroke="#7fc8b0" stroke-width="1.6"/>
<line x1="436" y1="362" x2="432.0" y2="353.0" stroke="#7fc8b0" stroke-width="1.6"/>
<polygon points="429.5,347.5 435.1,351.5 428.8,354.4" fill="#7fc8b0"/>
<line x1="518.3" y1="458" x2="518.3" y2="430.3" stroke="#4f9a90" stroke-width="2"/>
<polygon points="518.3,423.3 522.3,430.3 514.3,430.3" fill="#4f9a90"/>
<line x1="518.3" y1="458" x2="546.1" y2="437.5" stroke="#4f9a90" stroke-width="2"/>
<polygon points="551.7,433.3 548.5,440.7 543.7,434.2" fill="#4f9a90"/>
<line x1="518.3" y1="458" x2="537.0" y2="467.0" stroke="#4f9a90" stroke-width="2"/>
<polygon points="543.3,470 535.3,470.6 538.7,463.4" fill="#4f9a90"/>
<text x="528.5" y="432.5" font-size="14" text-anchor="middle" fill="#4f9a90" font-weight="normal" font-style="italic">Z</text>
<text x="565.5" y="438.5" font-size="14" text-anchor="middle" fill="#4f9a90" font-weight="normal" font-style="italic">Y</text>
<text x="549" y="470.5" font-size="14" text-anchor="middle" fill="#4f9a90" font-weight="normal" font-style="italic">X</text>
<rect x="5" y="494" width="585" height="123" fill="#000"/>
<line x1="151.5" y1="494" x2="151.5" y2="617" stroke="#8a8a8a" stroke-width="1.4"/>
<line x1="297.7" y1="494" x2="297.7" y2="617" stroke="#8a8a8a" stroke-width="1.4"/>
<line x1="444.1" y1="494" x2="444.1" y2="617" stroke="#8a8a8a" stroke-width="1.4"/>
<text x="15.5" y="508" font-size="14" text-anchor="middle" fill="#fff" font-weight="bold" font-style="normal">D</text>
<rect x="29.3" y="497.5" width="27.5" height="35.5" fill="url(#slotsD)"/>
<text x="22.5" y="530" font-size="13" text-anchor="middle" fill="#e8e8e8" font-weight="normal" font-style="normal">0°</text>
<line x1="16" y1="533" x2="29" y2="533" stroke="#ddd" stroke-width="1.3" stroke-dasharray="3 2"/>
<ellipse cx="80" cy="548" rx="6" ry="40" fill="#139a13" filter="url(#b4)"/>
<g filter="url(#b3)">
<circle cx="80" cy="508" r="2.3" fill="#18b018" opacity="0.43"/>
<circle cx="80" cy="518" r="5.8" fill="#18b018" opacity="0.70"/>
<circle cx="80" cy="528.8" r="6.0" fill="#18b018" opacity="0.72"/>
<circle cx="80" cy="538.9" r="6.3" fill="#18b018" opacity="0.75"/>
<circle cx="80" cy="550.4" r="6.6" fill="#18b018" opacity="0.77"/>
<circle cx="80" cy="561.2" r="6.3" fill="#18b018" opacity="0.75"/>
<circle cx="80" cy="571.3" r="5.8" fill="#18b018" opacity="0.70"/>
<circle cx="80" cy="580.7" r="4.0" fill="#18b018" opacity="0.56"/>
</g><g filter="url(#b1)">
<circle cx="80" cy="508" r="1.5" fill="#30e030"/>
<circle cx="80" cy="518" r="3.8" fill="#30e030"/>
<circle cx="80" cy="528.8" r="4.0" fill="#30e030"/>
<circle cx="80" cy="538.9" r="4.2" fill="#30e030"/>
<circle cx="80" cy="550.4" r="4.3" fill="#30e030"/>
<circle cx="80" cy="561.2" r="4.2" fill="#30e030"/>
<circle cx="80" cy="571.3" r="3.8" fill="#30e030"/>
<circle cx="80" cy="580.7" r="2.6" fill="#30e030"/>
</g>
<circle cx="80" cy="518" r="1.3" fill="#e0ffe0" opacity="0.8" filter="url(#bh)"/>
<circle cx="80" cy="528.8" r="1.3" fill="#e0ffe0" opacity="0.8" filter="url(#bh)"/>
<circle cx="80" cy="538.9" r="1.4" fill="#e0ffe0" opacity="0.8" filter="url(#bh)"/>
<circle cx="80" cy="550.4" r="1.4" fill="#e0ffe0" opacity="0.8" filter="url(#bh)"/>
<circle cx="80" cy="561.2" r="1.4" fill="#e0ffe0" opacity="0.8" filter="url(#bh)"/>
<circle cx="80" cy="571.3" r="1.3" fill="#e0ffe0" opacity="0.8" filter="url(#bh)"/>
<line x1="79.5" y1="579" x2="79.5" y2="601" stroke="#ddd" stroke-width="1.2" stroke-dasharray="2.5 2"/>
<text x="91" y="608.5" font-size="13" text-anchor="middle" fill="#e8e8e8" font-weight="normal" font-style="normal">0°</text>
<line x1="127" y1="612.5" x2="145" y2="612.5" stroke="#fff" stroke-width="2"/>
<g transform="rotate(30 202 515)"><rect x="190" y="498" width="27" height="34" fill="url(#slotsD)" opacity="0.6"/></g>
<rect x="186" y="498.7" width="21.5" height="33.8" fill="url(#slotsD)"/>
<text x="164.5" y="530" font-size="13" text-anchor="middle" fill="#e8e8e8" font-weight="normal" font-style="normal">30°</text>
<line x1="160" y1="532" x2="197.5" y2="532" stroke="#ddd" stroke-width="1.3" stroke-dasharray="3.5 2.5"/>
<line x1="162.5" y1="511" x2="193.7" y2="531" stroke="#ddd" stroke-width="1.3" stroke-dasharray="3.5 2.5"/>
<g filter="url(#b4)">
<ellipse cx="232.6" cy="532.2" rx="9" ry="4.5" transform="rotate(25 232.6 532.2)" fill="#139a13"/>
<ellipse cx="227.8" cy="542.6" rx="9" ry="4.5" transform="rotate(25 227.8 542.6)" fill="#139a13"/>
<ellipse cx="224.6" cy="554.6" rx="9" ry="4.5" transform="rotate(25 224.6 554.6)" fill="#139a13"/>
<ellipse cx="221.4" cy="565.8" rx="9" ry="4.5" transform="rotate(25 221.4 565.8)" fill="#139a13"/>
<ellipse cx="218.2" cy="577" rx="9" ry="4.5" transform="rotate(25 218.2 577)" fill="#139a13"/>
<ellipse cx="215.8" cy="587.4" rx="9" ry="4.5" transform="rotate(25 215.8 587.4)" fill="#139a13"/>
</g>
<g filter="url(#b3)">
<circle cx="235.8" cy="521" r="1.8" fill="#18b018" opacity="0.45"/>
<circle cx="228.1" cy="530.2" r="3.4" fill="#18b018" opacity="0.63"/>
<circle cx="232.6" cy="532.2" r="3.8" fill="#18b018" opacity="0.68"/>
<circle cx="237.1" cy="534.2" r="3.4" fill="#18b018" opacity="0.63"/>
<circle cx="223.3" cy="540.6" r="3.6" fill="#18b018" opacity="0.66"/>
<circle cx="227.8" cy="542.6" r="4.0" fill="#18b018" opacity="0.70"/>
<circle cx="232.3" cy="544.6" r="3.6" fill="#18b018" opacity="0.66"/>
<circle cx="220.1" cy="552.6" r="3.8" fill="#18b018" opacity="0.68"/>
<circle cx="224.6" cy="554.6" r="4.2" fill="#18b018" opacity="0.72"/>
<circle cx="229.1" cy="556.6" r="3.8" fill="#18b018" opacity="0.68"/>
<circle cx="216.9" cy="563.8" r="3.6" fill="#18b018" opacity="0.66"/>
<circle cx="221.4" cy="565.8" r="4.0" fill="#18b018" opacity="0.70"/>
<circle cx="225.9" cy="567.8" r="3.6" fill="#18b018" opacity="0.66"/>
<circle cx="213.7" cy="575" r="3.4" fill="#18b018" opacity="0.63"/>
<circle cx="218.2" cy="577" r="3.8" fill="#18b018" opacity="0.68"/>
<circle cx="222.7" cy="579" r="3.4" fill="#18b018" opacity="0.63"/>
<circle cx="211.3" cy="585.4" r="2.5" fill="#18b018" opacity="0.53"/>
<circle cx="215.8" cy="587.4" r="2.8" fill="#18b018" opacity="0.56"/>
<circle cx="220.3" cy="589.4" r="2.5" fill="#18b018" opacity="0.53"/>
</g><g filter="url(#b1)">
<circle cx="235.8" cy="521" r="1.2" fill="#30e030"/>
<circle cx="228.1" cy="530.2" r="2.2" fill="#30e030"/>
<circle cx="232.6" cy="532.2" r="2.5" fill="#30e030"/>
<circle cx="237.1" cy="534.2" r="2.2" fill="#30e030"/>
<circle cx="223.3" cy="540.6" r="2.4" fill="#30e030"/>
<circle cx="227.8" cy="542.6" r="2.6" fill="#30e030"/>
<circle cx="232.3" cy="544.6" r="2.4" fill="#30e030"/>
<circle cx="220.1" cy="552.6" r="2.5" fill="#30e030"/>
<circle cx="224.6" cy="554.6" r="2.8" fill="#30e030"/>
<circle cx="229.1" cy="556.6" r="2.5" fill="#30e030"/>
<circle cx="216.9" cy="563.8" r="2.4" fill="#30e030"/>
<circle cx="221.4" cy="565.8" r="2.6" fill="#30e030"/>
<circle cx="225.9" cy="567.8" r="2.4" fill="#30e030"/>
<circle cx="213.7" cy="575" r="2.2" fill="#30e030"/>
<circle cx="218.2" cy="577" r="2.5" fill="#30e030"/>
<circle cx="222.7" cy="579" r="2.2" fill="#30e030"/>
<circle cx="211.3" cy="585.4" r="1.7" fill="#30e030"/>
<circle cx="215.8" cy="587.4" r="1.8" fill="#30e030"/>
<circle cx="220.3" cy="589.4" r="1.7" fill="#30e030"/>
</g>
<circle cx="232.6" cy="532.2" r="0.8" fill="#e0ffe0" opacity="0.8" filter="url(#bh)"/>
<circle cx="227.8" cy="542.6" r="0.9" fill="#e0ffe0" opacity="0.8" filter="url(#bh)"/>
<circle cx="220.1" cy="552.6" r="0.8" fill="#e0ffe0" opacity="0.8" filter="url(#bh)"/>
<circle cx="224.6" cy="554.6" r="0.9" fill="#e0ffe0" opacity="0.8" filter="url(#bh)"/>
<circle cx="229.1" cy="556.6" r="0.8" fill="#e0ffe0" opacity="0.8" filter="url(#bh)"/>
<circle cx="221.4" cy="565.8" r="0.9" fill="#e0ffe0" opacity="0.8" filter="url(#bh)"/>
<circle cx="218.2" cy="577" r="0.8" fill="#e0ffe0" opacity="0.8" filter="url(#bh)"/>
<line x1="225" y1="562" x2="226" y2="601" stroke="#ddd" stroke-width="1.3" stroke-dasharray="3 2.5"/>
<line x1="221" y1="562" x2="201" y2="598" stroke="#ddd" stroke-width="1.3" stroke-dasharray="3 2.5"/>
<path d="M224,593 L212,592" fill="none" stroke="#eee" stroke-width="1.3"/><polygon points="208,591.5 214,588.5 214,595" fill="#eee"/>
<text x="212.5" y="610" font-size="13" text-anchor="middle" fill="#e8e8e8" font-weight="normal" font-style="normal">30°</text>
<g transform="rotate(60 346 517)"><rect x="333" y="500" width="27" height="34" fill="url(#slotsD)" opacity="0.6"/></g>
<rect x="335.7" y="501.2" width="21.3" height="31.3" fill="url(#slotsD)"/>
<text x="312.5" y="527.5" font-size="13" text-anchor="middle" fill="#e8e8e8" font-weight="normal" font-style="normal">60°</text>
<line x1="309.5" y1="532.5" x2="334.5" y2="532.5" stroke="#ddd" stroke-width="1.3" stroke-dasharray="3.5 2.5"/>
<line x1="318" y1="504" x2="334.5" y2="531" stroke="#ddd" stroke-width="1.3" stroke-dasharray="3.5 2.5"/>
<ellipse cx="372" cy="556" rx="12" ry="22" transform="rotate(35 372 556)" fill="#0a5a0a" filter="url(#b6)" opacity="0.6"/>
<g filter="url(#b3)">
<circle cx="372" cy="554.4" r="5.5" fill="#18b018" opacity="0.77"/>
<circle cx="371.5" cy="542.2" r="4.8" fill="#18b018" opacity="0.70"/>
<circle cx="361.6" cy="548" r="4.8" fill="#18b018" opacity="0.70"/>
<circle cx="383.2" cy="549.2" r="4.8" fill="#18b018" opacity="0.70"/>
<circle cx="361" cy="560.8" r="4.8" fill="#18b018" opacity="0.70"/>
<circle cx="371.5" cy="567.8" r="4.8" fill="#18b018" opacity="0.70"/>
<circle cx="393" cy="543.3" r="4.3" fill="#18b018" opacity="0.66"/>
<circle cx="382.6" cy="536.3" r="4.3" fill="#18b018" opacity="0.66"/>
<circle cx="372.7" cy="531" r="3.6" fill="#18b018" opacity="0.59"/>
<circle cx="382" cy="562" r="3.6" fill="#18b018" opacity="0.59"/>
<circle cx="351" cy="566.7" r="4.1" fill="#18b018" opacity="0.63"/>
<circle cx="361" cy="573.7" r="3.6" fill="#18b018" opacity="0.59"/>
<circle cx="371.5" cy="580.7" r="3.6" fill="#18b018" opacity="0.59"/>
<circle cx="351.7" cy="553.8" r="1.9" fill="#18b018" opacity="0.43"/>
<circle cx="362" cy="535.8" r="1.9" fill="#18b018" opacity="0.43"/>
<circle cx="393" cy="531" r="1.9" fill="#18b018" opacity="0.43"/>
<circle cx="391" cy="556.8" r="2.2" fill="#18b018" opacity="0.45"/>
<circle cx="381.4" cy="576" r="1.7" fill="#18b018" opacity="0.41"/>
<circle cx="351.7" cy="578.3" r="1.7" fill="#18b018" opacity="0.41"/>
<circle cx="361" cy="585" r="1.4" fill="#18b018" opacity="0.39"/>
</g><g filter="url(#b1)">
<circle cx="372" cy="554.4" r="3.6" fill="#30e030"/>
<circle cx="371.5" cy="542.2" r="3.2" fill="#30e030"/>
<circle cx="361.6" cy="548" r="3.2" fill="#30e030"/>
<circle cx="383.2" cy="549.2" r="3.2" fill="#30e030"/>
<circle cx="361" cy="560.8" r="3.2" fill="#30e030"/>
<circle cx="371.5" cy="567.8" r="3.2" fill="#30e030"/>
<circle cx="393" cy="543.3" r="2.8" fill="#30e030"/>
<circle cx="382.6" cy="536.3" r="2.8" fill="#30e030"/>
<circle cx="372.7" cy="531" r="2.4" fill="#30e030"/>
<circle cx="382" cy="562" r="2.4" fill="#30e030"/>
<circle cx="351" cy="566.7" r="2.7" fill="#30e030"/>
<circle cx="361" cy="573.7" r="2.4" fill="#30e030"/>
<circle cx="371.5" cy="580.7" r="2.4" fill="#30e030"/>
<circle cx="351.7" cy="553.8" r="1.3" fill="#30e030"/>
<circle cx="362" cy="535.8" r="1.3" fill="#30e030"/>
<circle cx="393" cy="531" r="1.3" fill="#30e030"/>
<circle cx="391" cy="556.8" r="1.4" fill="#30e030"/>
<circle cx="381.4" cy="576" r="1.1" fill="#30e030"/>
<circle cx="351.7" cy="578.3" r="1.1" fill="#30e030"/>
<circle cx="361" cy="585" r="0.9" fill="#30e030"/>
</g>
<circle cx="372" cy="554.4" r="1.2" fill="#e0ffe0" opacity="0.8" filter="url(#bh)"/>
<circle cx="371.5" cy="542.2" r="1.0" fill="#e0ffe0" opacity="0.8" filter="url(#bh)"/>
<circle cx="361.6" cy="548" r="1.0" fill="#e0ffe0" opacity="0.8" filter="url(#bh)"/>
<circle cx="383.2" cy="549.2" r="1.0" fill="#e0ffe0" opacity="0.8" filter="url(#bh)"/>
<circle cx="361" cy="560.8" r="1.0" fill="#e0ffe0" opacity="0.8" filter="url(#bh)"/>
<circle cx="371.5" cy="567.8" r="1.0" fill="#e0ffe0" opacity="0.8" filter="url(#bh)"/>
<line x1="334.5" y1="573.7" x2="372" y2="555" stroke="#ddd" stroke-width="1.3" stroke-dasharray="3 2.5"/>
<line x1="372" y1="555" x2="372" y2="598" stroke="#ddd" stroke-width="1.3" stroke-dasharray="3 2.5"/>
<path d="M371,591 C358,590 346,584 341,575" fill="none" stroke="#eee" stroke-width="1.4"/><polygon points="339,571 345.5,575 339.5,578.5" fill="#eee"/>
<text x="345" y="602.5" font-size="13" text-anchor="middle" fill="#e8e8e8" font-weight="normal" font-style="normal">60°</text>
<rect x="474" y="507.5" width="35" height="17.5" fill="url(#slotsD)" opacity="0.6"/>
<rect x="480" y="501.2" width="21" height="31.3" fill="url(#slotsD)"/>
<text x="460.5" y="527" font-size="13" text-anchor="middle" fill="#e8e8e8" font-weight="normal" font-style="normal">90°</text>
<line x1="474" y1="501" x2="474" y2="533" stroke="#ddd" stroke-width="1.3" stroke-dasharray="3.5 2.5"/>
<line x1="452" y1="533" x2="474" y2="533" stroke="#ddd" stroke-width="1.3" stroke-dasharray="3.5 2.5"/>
<ellipse cx="519" cy="556" rx="22" ry="20" fill="#0a5a0a" filter="url(#b6)" opacity="0.6"/>
<g filter="url(#b3)">
<circle cx="519" cy="530.5" r="3.6" fill="#18b018" opacity="0.59"/>
<circle cx="532.5" cy="530.5" r="1.7" fill="#18b018" opacity="0.41"/>
<circle cx="506" cy="530.5" r="1.7" fill="#18b018" opacity="0.41"/>
<circle cx="493.5" cy="543.2" r="1.9" fill="#18b018" opacity="0.43"/>
<circle cx="506.2" cy="543.2" r="4.6" fill="#18b018" opacity="0.68"/>
<circle cx="519" cy="543.2" r="4.8" fill="#18b018" opacity="0.70"/>
<circle cx="532.5" cy="543.2" r="4.6" fill="#18b018" opacity="0.68"/>
<circle cx="545" cy="543.2" r="1.9" fill="#18b018" opacity="0.43"/>
<circle cx="492.7" cy="556" r="4.6" fill="#18b018" opacity="0.68"/>
<circle cx="505.5" cy="556" r="4.8" fill="#18b018" opacity="0.70"/>
<circle cx="519" cy="556" r="5.5" fill="#18b018" opacity="0.77"/>
<circle cx="531.7" cy="556" r="4.8" fill="#18b018" opacity="0.70"/>
<circle cx="544.5" cy="556" r="4.6" fill="#18b018" opacity="0.68"/>
<circle cx="557" cy="556" r="1.9" fill="#18b018" opacity="0.43"/>
<circle cx="493.5" cy="568.7" r="2.6" fill="#18b018" opacity="0.50"/>
<circle cx="505.5" cy="568.7" r="4.6" fill="#18b018" opacity="0.68"/>
<circle cx="518" cy="568.7" r="4.8" fill="#18b018" opacity="0.70"/>
<circle cx="531.7" cy="568.7" r="4.6" fill="#18b018" opacity="0.68"/>
<circle cx="543.7" cy="568.7" r="2.9" fill="#18b018" opacity="0.52"/>
<circle cx="505.5" cy="581.5" r="3.4" fill="#18b018" opacity="0.56"/>
<circle cx="518" cy="581.5" r="3.6" fill="#18b018" opacity="0.59"/>
<circle cx="530" cy="581.5" r="3.4" fill="#18b018" opacity="0.56"/>
</g><g filter="url(#b1)">
<circle cx="519" cy="530.5" r="2.4" fill="#30e030"/>
<circle cx="532.5" cy="530.5" r="1.1" fill="#30e030"/>
<circle cx="506" cy="530.5" r="1.1" fill="#30e030"/>
<circle cx="493.5" cy="543.2" r="1.3" fill="#30e030"/>
<circle cx="506.2" cy="543.2" r="3.0" fill="#30e030"/>
<circle cx="519" cy="543.2" r="3.2" fill="#30e030"/>
<circle cx="532.5" cy="543.2" r="3.0" fill="#30e030"/>
<circle cx="545" cy="543.2" r="1.3" fill="#30e030"/>
<circle cx="492.7" cy="556" r="3.0" fill="#30e030"/>
<circle cx="505.5" cy="556" r="3.2" fill="#30e030"/>
<circle cx="519" cy="556" r="3.6" fill="#30e030"/>
<circle cx="531.7" cy="556" r="3.2" fill="#30e030"/>
<circle cx="544.5" cy="556" r="3.0" fill="#30e030"/>
<circle cx="557" cy="556" r="1.3" fill="#30e030"/>
<circle cx="493.5" cy="568.7" r="1.7" fill="#30e030"/>
<circle cx="505.5" cy="568.7" r="3.0" fill="#30e030"/>
<circle cx="518" cy="568.7" r="3.2" fill="#30e030"/>
<circle cx="531.7" cy="568.7" r="3.0" fill="#30e030"/>
<circle cx="543.7" cy="568.7" r="1.9" fill="#30e030"/>
<circle cx="505.5" cy="581.5" r="2.2" fill="#30e030"/>
<circle cx="518" cy="581.5" r="2.4" fill="#30e030"/>
<circle cx="530" cy="581.5" r="2.2" fill="#30e030"/>
</g>
<circle cx="506.2" cy="543.2" r="1.0" fill="#e0ffe0" opacity="0.8" filter="url(#bh)"/>
<circle cx="519" cy="543.2" r="1.0" fill="#e0ffe0" opacity="0.8" filter="url(#bh)"/>
<circle cx="532.5" cy="543.2" r="1.0" fill="#e0ffe0" opacity="0.8" filter="url(#bh)"/>
<circle cx="492.7" cy="556" r="1.0" fill="#e0ffe0" opacity="0.8" filter="url(#bh)"/>
<circle cx="505.5" cy="556" r="1.0" fill="#e0ffe0" opacity="0.8" filter="url(#bh)"/>
<circle cx="519" cy="556" r="1.2" fill="#e0ffe0" opacity="0.8" filter="url(#bh)"/>
<circle cx="531.7" cy="556" r="1.0" fill="#e0ffe0" opacity="0.8" filter="url(#bh)"/>
<circle cx="544.5" cy="556" r="1.0" fill="#e0ffe0" opacity="0.8" filter="url(#bh)"/>
<circle cx="505.5" cy="568.7" r="1.0" fill="#e0ffe0" opacity="0.8" filter="url(#bh)"/>
<circle cx="518" cy="568.7" r="1.0" fill="#e0ffe0" opacity="0.8" filter="url(#bh)"/>
<circle cx="531.7" cy="568.7" r="1.0" fill="#e0ffe0" opacity="0.8" filter="url(#bh)"/>
<line x1="476.7" y1="556" x2="518" y2="556" stroke="#ddd" stroke-width="1.3" stroke-dasharray="3 2.5"/>
<line x1="518" y1="556" x2="518" y2="605" stroke="#ddd" stroke-width="1.3" stroke-dasharray="3 2.5"/>
<path d="M517,594 C500,593 485,580 480,564" fill="none" stroke="#eee" stroke-width="1.4"/><polygon points="479,559 483.5,566 476.5,566" fill="#eee"/>
<text x="485.5" y="601" font-size="13" text-anchor="middle" fill="#e8e8e8" font-weight="normal" font-style="normal">90°</text>
</svg></body></html>
